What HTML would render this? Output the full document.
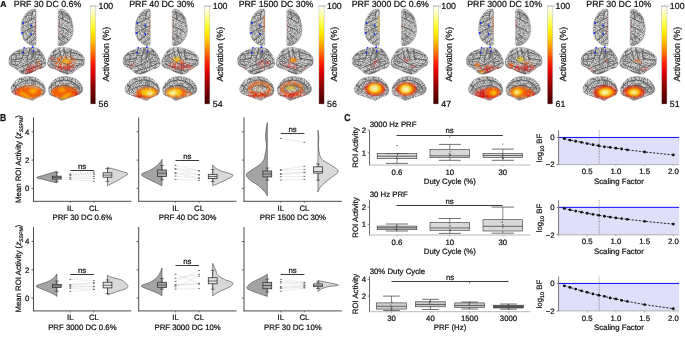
<!DOCTYPE html>
<html><head><meta charset="utf-8"><style>
html,body{margin:0;padding:0;background:#fff;width:685px;height:337px;overflow:hidden}
svg{display:block;will-change:transform}
text{font-family:"Liberation Sans",sans-serif;text-rendering:geometricPrecision;stroke:#111;stroke-width:0.22px}
</style></head><body>
<svg width="685" height="337" viewBox="0 0 685 337" font-family="'Liberation Sans', sans-serif">
<defs>
<linearGradient id="hot" x1="0" y1="1" x2="0" y2="0">
<stop offset="0" stop-color="#440000"/>
<stop offset="0.18" stop-color="#8c0000"/>
<stop offset="0.32" stop-color="#dc0000"/>
<stop offset="0.42" stop-color="#ff2200"/>
<stop offset="0.52" stop-color="#ff6e00"/>
<stop offset="0.62" stop-color="#ffb400"/>
<stop offset="0.72" stop-color="#ffea00"/>
<stop offset="0.82" stop-color="#ffff4a"/>
<stop offset="0.92" stop-color="#ffffb0"/>
<stop offset="1" stop-color="#fffffa"/>
</linearGradient>
<filter id="tex" x="0" y="0" width="100%" height="100%" filterUnits="objectBoundingBox">
<feTurbulence type="turbulence" baseFrequency="0.35 0.45" numOctaves="2" seed="4" result="t"/>
<feColorMatrix in="t" type="matrix" values="0 0 0 0 0  0 0 0 0 0  0 0 0 0 0  -2.2 -0.5 0 0 1.05" result="a"/>
<feFlood flood-color="#5a5a5a" result="f"/>
<feComposite in="f" in2="a" operator="in" result="d"/>
<feComposite in="d" in2="SourceGraphic" operator="in"/>
</filter>
<filter id="blur1"><feGaussianBlur stdDeviation="0.9"/></filter>
<filter id="blur2"><feGaussianBlur stdDeviation="1.6"/></filter>
<g id="sulLL"><path d="M20.70 66.90 L24.50 65.50 L28.30 64.00 L32.00 61.80 L35.90 59.30 L38.00 57.50"/><path d="M21.60 71.60 L27.00 69.80 L33.00 67.80 L38.00 66.00 L42.50 64.00"/><path d="M29.70 48.80 L29.20 51.50 L28.30 54.50 L27.50 57.50 L26.80 60.20"/><path d="M23.50 49.80 L23.30 52.50 L23.00 55.50 L22.40 58.00 L21.60 60.20"/><path d="M34.00 50.70 L33.60 53.00 L33.00 55.50 L32.50 57.50 L32.00 59.30"/><path d="M12.10 55.50 L15.00 54.40 L17.80 53.60 L22.60 52.60"/><path d="M11.20 60.20 L14.00 59.70 L16.90 59.30 L21.60 58.30"/><path d="M34.90 53.60 L37.80 54.40 L40.60 55.50 L42.60 57.30 L44.40 59.30"/><path d="M25.40 73.50 L30.50 72.20 L35.90 70.70 L40.00 69.00 L44.40 66.90"/><path d="M12.10 64.00 L15.00 65.00 L17.80 65.90"/><path d="M38.00 50.50 L40.00 52.00"/><path d="M16.00 50.50 L18.00 51.20"/><path d="M36.00 62.50 L39.00 61.50 L42.00 61.00"/></g>
<g id="sulLR"><path d="M72.90 66.90 L69.10 65.50 L65.30 64.00 L61.60 61.80 L57.70 59.30 L55.60 57.50"/><path d="M72.00 71.60 L66.60 69.80 L60.60 67.80 L55.60 66.00 L51.10 64.00"/><path d="M63.90 48.80 L64.40 51.50 L65.30 54.50 L66.10 57.50 L66.80 60.20"/><path d="M70.10 49.80 L70.30 52.50 L70.60 55.50 L71.20 58.00 L72.00 60.20"/><path d="M59.60 50.70 L60.00 53.00 L60.60 55.50 L61.10 57.50 L61.60 59.30"/><path d="M81.50 55.50 L78.60 54.40 L75.80 53.60 L71.00 52.60"/><path d="M82.40 60.20 L79.60 59.70 L76.70 59.30 L72.00 58.30"/><path d="M58.70 53.60 L55.80 54.40 L53.00 55.50 L51.00 57.30 L49.20 59.30"/><path d="M68.20 73.50 L63.10 72.20 L57.70 70.70 L53.60 69.00 L49.20 66.90"/><path d="M81.50 64.00 L78.60 65.00 L75.80 65.90"/><path d="M55.60 50.50 L53.60 52.00"/><path d="M77.60 50.50 L75.60 51.20"/><path d="M57.60 62.50 L54.60 61.50 L51.60 61.00"/></g>
<g id="sulDL"><path d="M36.00 17.00 L32.00 19.00 L28.00 21.50 L24.00 23.00"/><path d="M35.80 26.00 L31.00 28.00 L27.00 30.00 L23.00 33.00"/><path d="M33.00 11.00 L32.00 15.00 L31.50 19.00"/><path d="M34.00 33.00 L30.00 37.00 L26.00 40.00"/><path d="M29.50 12.50 L27.00 15.50 L24.50 18.00"/><path d="M35.50 38.00 L32.00 41.00 L29.00 43.00"/></g>
<g id="sulDR"><path d="M58.20 17.00 L62.20 19.00 L66.20 21.50 L70.20 23.00"/><path d="M58.40 26.00 L63.20 28.00 L67.20 30.00 L71.20 33.00"/><path d="M61.20 11.00 L62.20 15.00 L62.70 19.00"/><path d="M60.20 33.00 L64.20 37.00 L68.20 40.00"/><path d="M64.70 12.50 L67.20 15.50 L69.70 18.00"/><path d="M58.70 38.00 L62.20 41.00 L65.20 43.00"/></g>
<g id="sulML"><path d="M14.00 90.00 L17.00 85.00 L22.00 81.50 L29.00 80.00 L36.00 81.00 L41.00 84.00 L44.00 88.00"/><path d="M17.00 92.00 L20.00 88.50 L25.00 86.00 L31.00 85.50 L37.00 86.50 L41.50 89.50"/><path d="M16.00 87.00 L13.00 85.00"/><path d="M22.00 79.50 L21.00 78.00"/><path d="M30.00 78.50 L30.00 77.00"/><path d="M38.00 79.50 L39.00 78.00"/></g>
<g id="sulMR"><path d="M79.80 90.00 L76.80 85.00 L71.80 81.50 L64.80 80.00 L57.80 81.00 L52.80 84.00 L49.80 88.00"/><path d="M76.80 92.00 L73.80 88.50 L68.80 86.00 L62.80 85.50 L56.80 86.50 L52.30 89.50"/><path d="M77.80 87.00 L80.80 85.00"/><path d="M71.80 79.50 L72.80 78.00"/><path d="M63.80 78.50 L63.80 77.00"/><path d="M55.80 79.50 L54.80 78.00"/></g>
<path id="sDL" d="M33.70 9.00 C34.63 9.13,35.60 8.67,36.00 10.50 C36.40 12.33,36.08 15.92,36.10 20.00 C36.12 24.08,36.12 30.92,36.10 35.00 C36.08 39.08,36.40 42.72,36.00 44.50 C35.60 46.28,34.63 45.62,33.70 45.70 C32.77 45.78,31.62 45.55,30.40 45.00 C29.18 44.45,27.63 43.50,26.40 42.40 C25.17 41.30,23.90 40.18,23.00 38.40 C22.10 36.62,21.28 33.93,21.00 31.70 C20.72 29.47,20.97 27.23,21.30 25.00 C21.63 22.77,22.15 20.30,23.00 18.30 C23.85 16.30,25.17 14.43,26.40 13.00 C27.63 11.57,29.18 10.37,30.40 9.70 C31.62 9.03,32.77 8.87,33.70 9.00 Z"/>
<clipPath id="cDL"><use href="#sDL"/></clipPath>
<filter id="txDL" x="0" y="0" width="100%" height="100%">
<feTurbulence type="fractalNoise" baseFrequency="0.25" numOctaves="1" seed="3" result="n"/>
<feColorMatrix in="n" type="matrix" values="0 0 0 0 0  0 0 0 0 0  0 0 0 0 0  1 0 0 0 0" result="a"/>
<feComponentTransfer in="a" result="b"><feFuncA type="table" tableValues="0 0 0.9 0.5 0 0.9 0 0.5 0.9 0 0"/></feComponentTransfer>
<feFlood flood-color="#505050"/>
<feComposite in2="b" operator="in" result="d"/>
<feComposite in="d" in2="SourceGraphic" operator="in"/>
</filter>
<path id="sDR" d="M63.80 9.70 C65.02 10.37,66.57 11.57,67.80 13.00 C69.03 14.43,70.35 16.30,71.20 18.30 C72.05 20.30,72.57 22.77,72.90 25.00 C73.23 27.23,73.48 29.47,73.20 31.70 C72.92 33.93,72.10 36.62,71.20 38.40 C70.30 40.18,69.03 41.30,67.80 42.40 C66.57 43.50,65.02 44.45,63.80 45.00 C62.58 45.55,61.43 45.78,60.50 45.70 C59.57 45.62,58.60 46.28,58.20 44.50 C57.80 42.72,58.12 39.08,58.10 35.00 C58.08 30.92,58.08 24.08,58.10 20.00 C58.12 15.92,57.80 12.33,58.20 10.50 C58.60 8.67,59.57 9.13,60.50 9.00 C61.43 8.87,62.58 9.03,63.80 9.70 Z"/>
<clipPath id="cDR"><use href="#sDR"/></clipPath>
<filter id="txDR" x="0" y="0" width="100%" height="100%">
<feTurbulence type="fractalNoise" baseFrequency="0.25" numOctaves="1" seed="5" result="n"/>
<feColorMatrix in="n" type="matrix" values="0 0 0 0 0  0 0 0 0 0  0 0 0 0 0  1 0 0 0 0" result="a"/>
<feComponentTransfer in="a" result="b"><feFuncA type="table" tableValues="0 0 0.9 0.5 0 0.9 0 0.5 0.9 0 0"/></feComponentTransfer>
<feFlood flood-color="#505050"/>
<feComposite in2="b" operator="in" result="d"/>
<feComposite in="d" in2="SourceGraphic" operator="in"/>
</filter>
<path id="sLL" d="M8.80 61.10 C8.80 59.68,9.07 57.93,9.90 56.50 C10.73 55.07,12.27 53.60,13.80 52.50 C15.33 51.40,17.12 50.67,19.10 49.90 C21.08 49.13,23.30 48.30,25.70 47.90 C28.10 47.50,31.32 47.28,33.50 47.50 C35.68 47.72,37.27 48.15,38.80 49.20 C40.33 50.25,41.60 52.15,42.70 53.80 C43.80 55.45,44.85 57.35,45.40 59.10 C45.95 60.85,46.33 62.88,46.00 64.30 C45.67 65.72,44.82 66.72,43.40 67.60 C41.98 68.48,39.37 68.78,37.50 69.60 C35.63 70.42,33.95 71.73,32.20 72.50 C30.45 73.27,28.75 74.03,27.00 74.20 C25.25 74.37,23.23 74.15,21.70 73.50 C20.17 72.85,19.12 71.28,17.80 70.30 C16.48 69.32,15.12 68.48,13.80 67.60 C12.48 66.72,10.73 66.08,9.90 65.00 C9.07 63.92,8.80 62.52,8.80 61.10 Z"/>
<clipPath id="cLL"><use href="#sLL"/></clipPath>
<filter id="txLL" x="0" y="0" width="100%" height="100%">
<feTurbulence type="fractalNoise" baseFrequency="0.25" numOctaves="1" seed="7" result="n"/>
<feColorMatrix in="n" type="matrix" values="0 0 0 0 0  0 0 0 0 0  0 0 0 0 0  1 0 0 0 0" result="a"/>
<feComponentTransfer in="a" result="b"><feFuncA type="table" tableValues="0 0 0.9 0.5 0 0.9 0 0.5 0.9 0 0"/></feComponentTransfer>
<feFlood flood-color="#505050"/>
<feComposite in2="b" operator="in" result="d"/>
<feComposite in="d" in2="SourceGraphic" operator="in"/>
</filter>
<path id="sLR" d="M83.70 65.00 C82.87 66.08,81.12 66.72,79.80 67.60 C78.48 68.48,77.12 69.32,75.80 70.30 C74.48 71.28,73.43 72.85,71.90 73.50 C70.37 74.15,68.35 74.37,66.60 74.20 C64.85 74.03,63.15 73.27,61.40 72.50 C59.65 71.73,57.97 70.42,56.10 69.60 C54.23 68.78,51.62 68.48,50.20 67.60 C48.78 66.72,47.93 65.72,47.60 64.30 C47.27 62.88,47.65 60.85,48.20 59.10 C48.75 57.35,49.80 55.45,50.90 53.80 C52.00 52.15,53.27 50.25,54.80 49.20 C56.33 48.15,57.92 47.72,60.10 47.50 C62.28 47.28,65.50 47.50,67.90 47.90 C70.30 48.30,72.52 49.13,74.50 49.90 C76.48 50.67,78.27 51.40,79.80 52.50 C81.33 53.60,82.87 55.07,83.70 56.50 C84.53 57.93,84.80 59.68,84.80 61.10 C84.80 62.52,84.53 63.92,83.70 65.00 Z"/>
<clipPath id="cLR"><use href="#sLR"/></clipPath>
<filter id="txLR" x="0" y="0" width="100%" height="100%">
<feTurbulence type="fractalNoise" baseFrequency="0.25" numOctaves="1" seed="11" result="n"/>
<feColorMatrix in="n" type="matrix" values="0 0 0 0 0  0 0 0 0 0  0 0 0 0 0  1 0 0 0 0" result="a"/>
<feComponentTransfer in="a" result="b"><feFuncA type="table" tableValues="0 0 0.9 0.5 0 0.9 0 0.5 0.9 0 0"/></feComponentTransfer>
<feFlood flood-color="#505050"/>
<feComposite in2="b" operator="in" result="d"/>
<feComposite in="d" in2="SourceGraphic" operator="in"/>
</filter>
<path id="sML" d="M10.90 89.10 C10.90 87.68,11.57 86.03,12.50 84.50 C13.43 82.97,14.97 81.07,16.50 79.90 C18.03 78.73,19.73 78.05,21.70 77.50 C23.67 76.95,26.10 76.63,28.30 76.60 C30.50 76.57,32.93 76.65,34.90 77.30 C36.87 77.95,38.58 79.20,40.10 80.50 C41.62 81.80,43.12 83.45,44.00 85.10 C44.88 86.75,45.50 88.75,45.40 90.40 C45.30 92.05,44.50 93.90,43.40 95.00 C42.30 96.10,40.22 96.35,38.80 97.00 C37.38 97.65,36.00 98.32,34.90 98.90 C33.80 99.48,33.30 100.43,32.20 100.50 C31.10 100.57,29.83 99.83,28.30 99.30 C26.77 98.77,24.75 97.93,23.00 97.30 C21.25 96.67,19.55 96.22,17.80 95.50 C16.05 94.78,13.65 94.07,12.50 93.00 C11.35 91.93,10.90 90.52,10.90 89.10 Z"/>
<clipPath id="cML"><use href="#sML"/></clipPath>
<filter id="txML" x="0" y="0" width="100%" height="100%">
<feTurbulence type="fractalNoise" baseFrequency="0.25" numOctaves="1" seed="13" result="n"/>
<feColorMatrix in="n" type="matrix" values="0 0 0 0 0  0 0 0 0 0  0 0 0 0 0  1 0 0 0 0" result="a"/>
<feComponentTransfer in="a" result="b"><feFuncA type="table" tableValues="0 0 0.9 0.5 0 0.9 0 0.5 0.9 0 0"/></feComponentTransfer>
<feFlood flood-color="#505050"/>
<feComposite in2="b" operator="in" result="d"/>
<feComposite in="d" in2="SourceGraphic" operator="in"/>
</filter>
<path id="sMR" d="M81.30 93.00 C80.15 94.07,77.75 94.78,76.00 95.50 C74.25 96.22,72.55 96.67,70.80 97.30 C69.05 97.93,67.03 98.77,65.50 99.30 C63.97 99.83,62.70 100.57,61.60 100.50 C60.50 100.43,60.00 99.48,58.90 98.90 C57.80 98.32,56.42 97.65,55.00 97.00 C53.58 96.35,51.50 96.10,50.40 95.00 C49.30 93.90,48.50 92.05,48.40 90.40 C48.30 88.75,48.92 86.75,49.80 85.10 C50.68 83.45,52.18 81.80,53.70 80.50 C55.22 79.20,56.93 77.95,58.90 77.30 C60.87 76.65,63.30 76.57,65.50 76.60 C67.70 76.63,70.13 76.95,72.10 77.50 C74.07 78.05,75.77 78.73,77.30 79.90 C78.83 81.07,80.37 82.97,81.30 84.50 C82.23 86.03,82.90 87.68,82.90 89.10 C82.90 90.52,82.45 91.93,81.30 93.00 Z"/>
<clipPath id="cMR"><use href="#sMR"/></clipPath>
<filter id="txMR" x="0" y="0" width="100%" height="100%">
<feTurbulence type="fractalNoise" baseFrequency="0.25" numOctaves="1" seed="17" result="n"/>
<feColorMatrix in="n" type="matrix" values="0 0 0 0 0  0 0 0 0 0  0 0 0 0 0  1 0 0 0 0" result="a"/>
<feComponentTransfer in="a" result="b"><feFuncA type="table" tableValues="0 0 0.9 0.5 0 0.9 0 0.5 0.9 0 0"/></feComponentTransfer>
<feFlood flood-color="#505050"/>
<feComposite in2="b" operator="in" result="d"/>
<feComposite in="d" in2="SourceGraphic" operator="in"/>
</filter>
<filter id="patch" x="-20%" y="-20%" width="140%" height="140%">
<feGaussianBlur in="SourceGraphic" stdDeviation="0.8" result="bl"/>
<feTurbulence type="fractalNoise" baseFrequency="0.45" numOctaves="1" seed="9" result="n"/>
<feColorMatrix in="n" type="matrix" values="0 0 0 0 0  0 0 0 0 0  0 0 0 0 0  3.2 0 0 0 -1.1" result="m"/>
<feComposite in="bl" in2="m" operator="in"/>
</filter>
<filter id="patch2" x="-20%" y="-20%" width="140%" height="140%">
<feGaussianBlur in="SourceGraphic" stdDeviation="0.9" result="bl"/>
<feTurbulence type="fractalNoise" baseFrequency="0.4" numOctaves="1" seed="4" result="n"/>
<feColorMatrix in="n" type="matrix" values="0 0 0 0 0  0 0 0 0 0  0 0 0 0 0  2.5 0 0 0 -0.4" result="m"/>
<feComposite in="bl" in2="m" operator="in"/>
</filter>
<filter id="soft" x="-30%" y="-30%" width="160%" height="160%"><feGaussianBlur stdDeviation="1.0"/></filter>
</defs>
<rect width="685" height="337" fill="#fff"/>
<g transform="translate(0.00,0)">
<text x="47.50" y="6.80" font-size="8.8" text-anchor="middle" fill="#111" font-weight="normal" >PRF 30 DC 0.6%</text>
<rect x="90.4" y="6" width="5.2" height="98" fill="url(#hot)" stroke="#aaa" stroke-width="0.4"/>
<line x1="90.20" y1="6.00" x2="98.00" y2="6.00" stroke="#888" stroke-width="0.5" />
<text x="98.50" y="9.20" font-size="8.8" text-anchor="start" fill="#111" font-weight="normal" >100</text>
<text x="98.50" y="107.20" font-size="8.8" text-anchor="start" fill="#111" font-weight="normal" >56</text>
<text x="108.90" y="54.20" font-size="8.9" text-anchor="middle" fill="#111" font-weight="normal" transform="rotate(-90 108.9 54.2)" >Activation (%)</text>
<g transform="translate(0.00,0)">
<use href="#sDL" fill="#d6d6d6" stroke="#a0a0a0" stroke-width="0.4"/>
<use href="#sDR" fill="#d6d6d6" stroke="#a0a0a0" stroke-width="0.4"/>
<use href="#sLL" fill="#d6d6d6" stroke="#a0a0a0" stroke-width="0.4"/>
<use href="#sLR" fill="#d6d6d6" stroke="#a0a0a0" stroke-width="0.4"/>
<use href="#sML" fill="#d6d6d6" stroke="#a0a0a0" stroke-width="0.4"/>
<use href="#sMR" fill="#d6d6d6" stroke="#a0a0a0" stroke-width="0.4"/>
<use href="#sDL" fill="#000" filter="url(#txDL)" opacity="0.72"/>
<g clip-path="url(#cDL)"><use href="#sulDL" fill="none" stroke="#4a4a4a" stroke-width="0.9" stroke-linecap="round" stroke-linejoin="round" opacity="0.85"/></g>
<use href="#sDR" fill="#000" filter="url(#txDR)" opacity="0.72"/>
<g clip-path="url(#cDR)"><use href="#sulDR" fill="none" stroke="#4a4a4a" stroke-width="0.9" stroke-linecap="round" stroke-linejoin="round" opacity="0.85"/></g>
<use href="#sLL" fill="#000" filter="url(#txLL)" opacity="0.72"/>
<g clip-path="url(#cLL)"><use href="#sulLL" fill="none" stroke="#4a4a4a" stroke-width="0.9" stroke-linecap="round" stroke-linejoin="round" opacity="0.85"/></g>
<use href="#sLR" fill="#000" filter="url(#txLR)" opacity="0.72"/>
<g clip-path="url(#cLR)"><use href="#sulLR" fill="none" stroke="#4a4a4a" stroke-width="0.9" stroke-linecap="round" stroke-linejoin="round" opacity="0.85"/></g>
<use href="#sML" fill="#000" filter="url(#txML)" opacity="0.72"/>
<g clip-path="url(#cML)"><use href="#sulML" fill="none" stroke="#4a4a4a" stroke-width="0.9" stroke-linecap="round" stroke-linejoin="round" opacity="0.85"/></g>
<use href="#sMR" fill="#000" filter="url(#txMR)" opacity="0.72"/>
<g clip-path="url(#cMR)"><use href="#sulMR" fill="none" stroke="#4a4a4a" stroke-width="0.9" stroke-linecap="round" stroke-linejoin="round" opacity="0.85"/></g>
<g clip-path="url(#cDL)"><ellipse cx="36.0" cy="28" rx="0.9" ry="9" fill="#e81000" opacity="0.7" filter="url(#patch)"/></g>
<g clip-path="url(#cDR)"><ellipse cx="58.3" cy="28" rx="0.9" ry="8" fill="#e81000" opacity="0.5" filter="url(#patch)"/></g>
<g clip-path="url(#cLL)"><ellipse cx="33" cy="68" rx="9" ry="4" fill="#e81000" opacity="0.6" transform="rotate(-10 33 68)" filter="url(#patch)"/></g>
<g clip-path="url(#cLL)"><ellipse cx="30" cy="71.5" rx="7" ry="1.8" fill="#e81000" opacity="0.7" transform="rotate(-10 30 71.5)" filter="url(#patch)"/></g>
<g clip-path="url(#cLL)"><ellipse cx="38" cy="62" rx="3" ry="2" fill="#ff6000" opacity="0.5" transform="rotate(20 38 62)" filter="url(#patch)"/></g>
<g clip-path="url(#cLR)"><ellipse cx="65" cy="62" rx="11" ry="6" fill="#ff6000" opacity="0.85" filter="url(#patch)"/></g>
<g clip-path="url(#cLR)"><ellipse cx="64" cy="68" rx="11" ry="2.5" fill="#e81000" opacity="0.75" filter="url(#patch)"/></g>
<g clip-path="url(#cLR)"><ellipse cx="66" cy="61" rx="4" ry="1.8" fill="#ffd200" opacity="0.85" transform="rotate(-10 66 61)" filter="url(#soft)"/></g>
<g clip-path="url(#cLR)"><ellipse cx="52" cy="59" rx="2" ry="2" fill="#e81000" opacity="0.7" filter="url(#patch)"/></g>
<g clip-path="url(#cML)"><ellipse cx="29.5" cy="92.5" rx="12.5" ry="5.5" fill="#ff6000" opacity="0.95" filter="url(#soft)"/></g>
<g clip-path="url(#cML)"><ellipse cx="29" cy="92" rx="13.5" ry="6.5" fill="#ff6000" opacity="0.6" filter="url(#patch2)"/></g>
<g clip-path="url(#cML)"><ellipse cx="17" cy="92" rx="4" ry="3" fill="#e81000" opacity="0.8" filter="url(#patch)"/></g>
<g clip-path="url(#cML)"><ellipse cx="33" cy="91" rx="4" ry="2.5" fill="#ffd200" opacity="0.7" filter="url(#soft)"/></g>
<g clip-path="url(#cML)"><ellipse cx="24.5" cy="94.8" rx="7" ry="1.2" fill="#ffd200" opacity="0.95" transform="rotate(32 24.5 94.8)" filter="url(#soft)"/></g>
<g clip-path="url(#cML)"><ellipse cx="35" cy="86.5" rx="8" ry="1.2" fill="#ffd8b0" opacity="0.6" transform="rotate(5 35 86.5)" filter="url(#soft)"/></g>
<g clip-path="url(#cMR)"><ellipse cx="64" cy="92.5" rx="12.5" ry="5.5" fill="#ff6000" opacity="0.95" filter="url(#soft)"/></g>
<g clip-path="url(#cMR)"><ellipse cx="65" cy="92" rx="13" ry="6.5" fill="#ff6000" opacity="0.6" filter="url(#patch2)"/></g>
<g clip-path="url(#cMR)"><ellipse cx="76" cy="94" rx="4" ry="3" fill="#e81000" opacity="0.8" filter="url(#patch)"/></g>
<g clip-path="url(#cMR)"><ellipse cx="66" cy="96" rx="6" ry="1.3" fill="#ffd200" opacity="0.95" transform="rotate(-30 66 96)" filter="url(#soft)"/></g>
<g clip-path="url(#cMR)"><ellipse cx="62" cy="90" rx="3.5" ry="2" fill="#ffd200" opacity="0.6" filter="url(#soft)"/></g>
<use href="#sLL" fill="#000" filter="url(#txLL)" opacity="0.12"/>
<use href="#sLR" fill="#000" filter="url(#txLR)" opacity="0.12"/>
<use href="#sML" fill="#000" filter="url(#txML)" opacity="0.12"/>
<use href="#sMR" fill="#000" filter="url(#txMR)" opacity="0.12"/>
<circle cx="23.2" cy="23" r="0.9" fill="#1020ff"/>
<circle cx="31.2" cy="25.5" r="0.9" fill="#1020ff"/>
<circle cx="22.2" cy="33" r="0.9" fill="#1020ff"/>
<circle cx="31" cy="34" r="0.9" fill="#1020ff"/>
<circle cx="24.2" cy="47.8" r="0.9" fill="#1020ff"/>
<circle cx="23" cy="52.6" r="0.9" fill="#1020ff"/>
<circle cx="32.7" cy="47.2" r="0.9" fill="#1020ff"/>
<circle cx="33.3" cy="51.3" r="0.9" fill="#1020ff"/>
</g>
</g>
<g transform="translate(114.27,0)">
<text x="47.50" y="6.80" font-size="8.8" text-anchor="middle" fill="#111" font-weight="normal" >PRF 40 DC 30%</text>
<rect x="90.4" y="6" width="5.2" height="98" fill="url(#hot)" stroke="#aaa" stroke-width="0.4"/>
<line x1="90.20" y1="6.00" x2="98.00" y2="6.00" stroke="#888" stroke-width="0.5" />
<text x="98.50" y="9.20" font-size="8.8" text-anchor="start" fill="#111" font-weight="normal" >100</text>
<text x="98.50" y="107.20" font-size="8.8" text-anchor="start" fill="#111" font-weight="normal" >54</text>
<text x="108.90" y="54.20" font-size="8.9" text-anchor="middle" fill="#111" font-weight="normal" transform="rotate(-90 108.9 54.2)" >Activation (%)</text>
<g transform="translate(-0.10,0)">
<use href="#sDL" fill="#d6d6d6" stroke="#a0a0a0" stroke-width="0.4"/>
<use href="#sDR" fill="#d6d6d6" stroke="#a0a0a0" stroke-width="0.4"/>
<use href="#sLL" fill="#d6d6d6" stroke="#a0a0a0" stroke-width="0.4"/>
<use href="#sLR" fill="#d6d6d6" stroke="#a0a0a0" stroke-width="0.4"/>
<use href="#sML" fill="#d6d6d6" stroke="#a0a0a0" stroke-width="0.4"/>
<use href="#sMR" fill="#d6d6d6" stroke="#a0a0a0" stroke-width="0.4"/>
<use href="#sDL" fill="#000" filter="url(#txDL)" opacity="0.72"/>
<g clip-path="url(#cDL)"><use href="#sulDL" fill="none" stroke="#4a4a4a" stroke-width="0.9" stroke-linecap="round" stroke-linejoin="round" opacity="0.85"/></g>
<use href="#sDR" fill="#000" filter="url(#txDR)" opacity="0.72"/>
<g clip-path="url(#cDR)"><use href="#sulDR" fill="none" stroke="#4a4a4a" stroke-width="0.9" stroke-linecap="round" stroke-linejoin="round" opacity="0.85"/></g>
<use href="#sLL" fill="#000" filter="url(#txLL)" opacity="0.72"/>
<g clip-path="url(#cLL)"><use href="#sulLL" fill="none" stroke="#4a4a4a" stroke-width="0.9" stroke-linecap="round" stroke-linejoin="round" opacity="0.85"/></g>
<use href="#sLR" fill="#000" filter="url(#txLR)" opacity="0.72"/>
<g clip-path="url(#cLR)"><use href="#sulLR" fill="none" stroke="#4a4a4a" stroke-width="0.9" stroke-linecap="round" stroke-linejoin="round" opacity="0.85"/></g>
<use href="#sML" fill="#000" filter="url(#txML)" opacity="0.72"/>
<g clip-path="url(#cML)"><use href="#sulML" fill="none" stroke="#4a4a4a" stroke-width="0.9" stroke-linecap="round" stroke-linejoin="round" opacity="0.85"/></g>
<use href="#sMR" fill="#000" filter="url(#txMR)" opacity="0.72"/>
<g clip-path="url(#cMR)"><use href="#sulMR" fill="none" stroke="#4a4a4a" stroke-width="0.9" stroke-linecap="round" stroke-linejoin="round" opacity="0.85"/></g>
<g clip-path="url(#cDL)"><ellipse cx="36.0" cy="27" rx="0.9" ry="12" fill="#ff6000" opacity="0.5" filter="url(#patch)"/></g>
<g clip-path="url(#cDR)"><ellipse cx="58.3" cy="27" rx="0.9" ry="10" fill="#ff6000" opacity="0.5" filter="url(#patch)"/></g>
<g clip-path="url(#cLL)"><ellipse cx="18" cy="65" rx="3" ry="2" fill="#e81000" opacity="0.6" filter="url(#patch)"/></g>
<g clip-path="url(#cLL)"><ellipse cx="14" cy="69" rx="3" ry="1.5" fill="#e81000" opacity="0.6" filter="url(#patch)"/></g>
<g clip-path="url(#cLR)"><ellipse cx="66" cy="66" rx="12" ry="3.5" fill="#e81000" opacity="0.75" filter="url(#patch)"/></g>
<g clip-path="url(#cLR)"><ellipse cx="64" cy="61" rx="6" ry="3" fill="#ff6000" opacity="0.7" filter="url(#patch)"/></g>
<g clip-path="url(#cLR)"><ellipse cx="62.6" cy="59.3" rx="3" ry="2" fill="#ffd200" opacity="0.9" filter="url(#soft)"/></g>
<g clip-path="url(#cLR)"><ellipse cx="78" cy="69" rx="2.5" ry="2" fill="#ff6000" opacity="0.8" filter="url(#patch)"/></g>
<g clip-path="url(#cML)"><ellipse cx="33" cy="92.5" rx="11.5" ry="5.5" fill="#ff6000" opacity="0.95" filter="url(#patch2)"/></g>
<g clip-path="url(#cML)"><ellipse cx="28" cy="96.5" rx="11" ry="2.5" fill="#e81000" opacity="0.8" filter="url(#patch)"/></g>
<g clip-path="url(#cML)"><ellipse cx="34" cy="92.5" rx="7.5" ry="3.8" fill="#ffd200" opacity="0.95" filter="url(#soft)"/></g>
<g clip-path="url(#cML)"><ellipse cx="35.7" cy="93.5" rx="3" ry="2" fill="#fff8b8" opacity="1" filter="url(#soft)"/></g>
<g clip-path="url(#cMR)"><ellipse cx="62" cy="92.5" rx="10.5" ry="5.5" fill="#ff6000" opacity="0.95" filter="url(#patch2)"/></g>
<g clip-path="url(#cMR)"><ellipse cx="73" cy="94" rx="5" ry="3.5" fill="#ff6000" opacity="0.8" filter="url(#patch)"/></g>
<g clip-path="url(#cMR)"><ellipse cx="60.5" cy="92.5" rx="7.5" ry="3.8" fill="#ffd200" opacity="0.95" filter="url(#soft)"/></g>
<g clip-path="url(#cMR)"><ellipse cx="58.8" cy="93" rx="3.5" ry="2.2" fill="#fff8b8" opacity="1" filter="url(#soft)"/></g>
<use href="#sLL" fill="#000" filter="url(#txLL)" opacity="0.12"/>
<use href="#sLR" fill="#000" filter="url(#txLR)" opacity="0.12"/>
<use href="#sML" fill="#000" filter="url(#txML)" opacity="0.12"/>
<use href="#sMR" fill="#000" filter="url(#txMR)" opacity="0.12"/>
<circle cx="23.2" cy="23" r="0.9" fill="#1020ff"/>
<circle cx="31.2" cy="25.5" r="0.9" fill="#1020ff"/>
<circle cx="22.2" cy="33" r="0.9" fill="#1020ff"/>
<circle cx="31" cy="34" r="0.9" fill="#1020ff"/>
<circle cx="24.2" cy="47.8" r="0.9" fill="#1020ff"/>
<circle cx="23" cy="52.6" r="0.9" fill="#1020ff"/>
<circle cx="32.7" cy="47.2" r="0.9" fill="#1020ff"/>
<circle cx="33.3" cy="51.3" r="0.9" fill="#1020ff"/>
</g>
</g>
<g transform="translate(228.54,0)">
<text x="47.50" y="6.80" font-size="8.8" text-anchor="middle" fill="#111" font-weight="normal" >PRF 1500 DC 30%</text>
<rect x="90.4" y="6" width="5.2" height="98" fill="url(#hot)" stroke="#aaa" stroke-width="0.4"/>
<line x1="90.20" y1="6.00" x2="98.00" y2="6.00" stroke="#888" stroke-width="0.5" />
<text x="98.50" y="9.20" font-size="8.8" text-anchor="start" fill="#111" font-weight="normal" >100</text>
<text x="98.50" y="107.20" font-size="8.8" text-anchor="start" fill="#111" font-weight="normal" >56</text>
<text x="108.90" y="54.20" font-size="8.9" text-anchor="middle" fill="#111" font-weight="normal" transform="rotate(-90 108.9 54.2)" >Activation (%)</text>
<g transform="translate(0.20,0)">
<use href="#sDL" fill="#d6d6d6" stroke="#a0a0a0" stroke-width="0.4"/>
<use href="#sDR" fill="#d6d6d6" stroke="#a0a0a0" stroke-width="0.4"/>
<use href="#sLL" fill="#d6d6d6" stroke="#a0a0a0" stroke-width="0.4"/>
<use href="#sLR" fill="#d6d6d6" stroke="#a0a0a0" stroke-width="0.4"/>
<use href="#sML" fill="#d6d6d6" stroke="#a0a0a0" stroke-width="0.4"/>
<use href="#sMR" fill="#d6d6d6" stroke="#a0a0a0" stroke-width="0.4"/>
<use href="#sDL" fill="#000" filter="url(#txDL)" opacity="0.72"/>
<g clip-path="url(#cDL)"><use href="#sulDL" fill="none" stroke="#4a4a4a" stroke-width="0.9" stroke-linecap="round" stroke-linejoin="round" opacity="0.85"/></g>
<use href="#sDR" fill="#000" filter="url(#txDR)" opacity="0.72"/>
<g clip-path="url(#cDR)"><use href="#sulDR" fill="none" stroke="#4a4a4a" stroke-width="0.9" stroke-linecap="round" stroke-linejoin="round" opacity="0.85"/></g>
<use href="#sLL" fill="#000" filter="url(#txLL)" opacity="0.72"/>
<g clip-path="url(#cLL)"><use href="#sulLL" fill="none" stroke="#4a4a4a" stroke-width="0.9" stroke-linecap="round" stroke-linejoin="round" opacity="0.85"/></g>
<use href="#sLR" fill="#000" filter="url(#txLR)" opacity="0.72"/>
<g clip-path="url(#cLR)"><use href="#sulLR" fill="none" stroke="#4a4a4a" stroke-width="0.9" stroke-linecap="round" stroke-linejoin="round" opacity="0.85"/></g>
<use href="#sML" fill="#000" filter="url(#txML)" opacity="0.72"/>
<g clip-path="url(#cML)"><use href="#sulML" fill="none" stroke="#4a4a4a" stroke-width="0.9" stroke-linecap="round" stroke-linejoin="round" opacity="0.85"/></g>
<use href="#sMR" fill="#000" filter="url(#txMR)" opacity="0.72"/>
<g clip-path="url(#cMR)"><use href="#sulMR" fill="none" stroke="#4a4a4a" stroke-width="0.9" stroke-linecap="round" stroke-linejoin="round" opacity="0.85"/></g>
<g clip-path="url(#cDL)"><ellipse cx="36.0" cy="23" rx="0.9" ry="9" fill="#ff6000" opacity="0.9" filter="url(#soft)"/></g>
<g clip-path="url(#cDR)"><ellipse cx="58.3" cy="26" rx="0.9" ry="6" fill="#e81000" opacity="0.5" filter="url(#patch)"/></g>
<g clip-path="url(#cLL)"><ellipse cx="35" cy="64" rx="6" ry="4" fill="#e81000" opacity="0.5" filter="url(#patch)"/></g>
<g clip-path="url(#cLL)"><ellipse cx="14.4" cy="69" rx="1.5" ry="1.5" fill="#e81000" opacity="0.7" filter="url(#soft)"/></g>
<g clip-path="url(#cLR)"><ellipse cx="62" cy="66" rx="8" ry="2" fill="#e81000" opacity="0.7" transform="rotate(10 62 66)" filter="url(#patch)"/></g>
<g clip-path="url(#cLR)"><ellipse cx="64.5" cy="60.2" rx="4" ry="2" fill="#ff6000" opacity="0.9" filter="url(#soft)"/></g>
<g clip-path="url(#cLR)"><ellipse cx="64.5" cy="60" rx="2" ry="1.2" fill="#ffd200" opacity="0.9" filter="url(#soft)"/></g>
<g clip-path="url(#cLR)"><ellipse cx="76" cy="69" rx="2" ry="1.5" fill="#e81000" opacity="0.6" filter="url(#patch)"/></g>
<g clip-path="url(#cML)"><ellipse cx="31" cy="89" rx="10" ry="6" fill="none" stroke="#ff6000" stroke-width="3" opacity="0.9" filter="url(#patch2)"/></g>
<g clip-path="url(#cML)"><ellipse cx="30" cy="95" rx="13" ry="3" fill="#e81000" opacity="0.8" filter="url(#patch)"/></g>
<g clip-path="url(#cML)"><ellipse cx="30" cy="89" rx="4" ry="2.5" fill="#ffd0a0" opacity="0.5" filter="url(#soft)"/></g>
<g clip-path="url(#cMR)"><ellipse cx="63" cy="89" rx="10" ry="6" fill="none" stroke="#ff6000" stroke-width="3" opacity="0.9" filter="url(#patch2)"/></g>
<g clip-path="url(#cMR)"><ellipse cx="64" cy="95" rx="13" ry="3" fill="#e81000" opacity="0.8" filter="url(#patch)"/></g>
<g clip-path="url(#cMR)"><ellipse cx="62" cy="88" rx="5" ry="2" fill="#ffd200" opacity="0.6" filter="url(#soft)"/></g>
<use href="#sLL" fill="#000" filter="url(#txLL)" opacity="0.12"/>
<use href="#sLR" fill="#000" filter="url(#txLR)" opacity="0.12"/>
<use href="#sML" fill="#000" filter="url(#txML)" opacity="0.12"/>
<use href="#sMR" fill="#000" filter="url(#txMR)" opacity="0.12"/>
<circle cx="23.2" cy="23" r="0.9" fill="#1020ff"/>
<circle cx="31.2" cy="25.5" r="0.9" fill="#1020ff"/>
<circle cx="22.2" cy="33" r="0.9" fill="#1020ff"/>
<circle cx="31" cy="34" r="0.9" fill="#1020ff"/>
<circle cx="24.2" cy="47.8" r="0.9" fill="#1020ff"/>
<circle cx="23" cy="52.6" r="0.9" fill="#1020ff"/>
<circle cx="32.7" cy="47.2" r="0.9" fill="#1020ff"/>
<circle cx="33.3" cy="51.3" r="0.9" fill="#1020ff"/>
</g>
</g>
<g transform="translate(342.81,0)">
<text x="47.50" y="6.80" font-size="8.8" text-anchor="middle" fill="#111" font-weight="normal" >PRF 3000 DC 0.6%</text>
<rect x="90.4" y="6" width="5.2" height="98" fill="url(#hot)" stroke="#aaa" stroke-width="0.4"/>
<line x1="90.20" y1="6.00" x2="98.00" y2="6.00" stroke="#888" stroke-width="0.5" />
<text x="98.50" y="9.20" font-size="8.8" text-anchor="start" fill="#111" font-weight="normal" >100</text>
<text x="98.50" y="107.20" font-size="8.8" text-anchor="start" fill="#111" font-weight="normal" >47</text>
<text x="108.90" y="54.20" font-size="8.9" text-anchor="middle" fill="#111" font-weight="normal" transform="rotate(-90 108.9 54.2)" >Activation (%)</text>
<g transform="translate(0.60,0)">
<use href="#sDL" fill="#d6d6d6" stroke="#a0a0a0" stroke-width="0.4"/>
<use href="#sDR" fill="#d6d6d6" stroke="#a0a0a0" stroke-width="0.4"/>
<use href="#sLL" fill="#d6d6d6" stroke="#a0a0a0" stroke-width="0.4"/>
<use href="#sLR" fill="#d6d6d6" stroke="#a0a0a0" stroke-width="0.4"/>
<use href="#sML" fill="#d6d6d6" stroke="#a0a0a0" stroke-width="0.4"/>
<use href="#sMR" fill="#d6d6d6" stroke="#a0a0a0" stroke-width="0.4"/>
<use href="#sDL" fill="#000" filter="url(#txDL)" opacity="0.72"/>
<g clip-path="url(#cDL)"><use href="#sulDL" fill="none" stroke="#4a4a4a" stroke-width="0.9" stroke-linecap="round" stroke-linejoin="round" opacity="0.85"/></g>
<use href="#sDR" fill="#000" filter="url(#txDR)" opacity="0.72"/>
<g clip-path="url(#cDR)"><use href="#sulDR" fill="none" stroke="#4a4a4a" stroke-width="0.9" stroke-linecap="round" stroke-linejoin="round" opacity="0.85"/></g>
<use href="#sLL" fill="#000" filter="url(#txLL)" opacity="0.72"/>
<g clip-path="url(#cLL)"><use href="#sulLL" fill="none" stroke="#4a4a4a" stroke-width="0.9" stroke-linecap="round" stroke-linejoin="round" opacity="0.85"/></g>
<use href="#sLR" fill="#000" filter="url(#txLR)" opacity="0.72"/>
<g clip-path="url(#cLR)"><use href="#sulLR" fill="none" stroke="#4a4a4a" stroke-width="0.9" stroke-linecap="round" stroke-linejoin="round" opacity="0.85"/></g>
<use href="#sML" fill="#000" filter="url(#txML)" opacity="0.72"/>
<g clip-path="url(#cML)"><use href="#sulML" fill="none" stroke="#4a4a4a" stroke-width="0.9" stroke-linecap="round" stroke-linejoin="round" opacity="0.85"/></g>
<use href="#sMR" fill="#000" filter="url(#txMR)" opacity="0.72"/>
<g clip-path="url(#cMR)"><use href="#sulMR" fill="none" stroke="#4a4a4a" stroke-width="0.9" stroke-linecap="round" stroke-linejoin="round" opacity="0.85"/></g>
<g clip-path="url(#cDL)"><ellipse cx="36.0" cy="24" rx="0.9" ry="9" fill="#ffd200" opacity="0.95" filter="url(#soft)"/></g>
<g clip-path="url(#cDR)"><ellipse cx="58.3" cy="25" rx="0.9" ry="6" fill="#ff6000" opacity="0.5" filter="url(#patch)"/></g>
<g clip-path="url(#cLL)"><ellipse cx="32" cy="62" rx="3" ry="2" fill="#e81000" opacity="0.6" filter="url(#patch)"/></g>
<g clip-path="url(#cLL)"><ellipse cx="30" cy="66" rx="4" ry="1.5" fill="#e81000" opacity="0.4" filter="url(#patch)"/></g>
<g clip-path="url(#cLR)"><ellipse cx="63" cy="60" rx="3" ry="1.5" fill="#e81000" opacity="0.8" filter="url(#patch)"/></g>
<g clip-path="url(#cLR)"><ellipse cx="70" cy="66" rx="3" ry="1.5" fill="#e81000" opacity="0.5" filter="url(#patch)"/></g>
<g clip-path="url(#cML)"><ellipse cx="31.5" cy="89" rx="10.5" ry="6.5" fill="#e81000" opacity="0.9" filter="url(#patch2)"/></g>
<g clip-path="url(#cML)"><ellipse cx="31.5" cy="89" rx="8.5" ry="5.5" fill="#ff6000" opacity="1" filter="url(#soft)"/></g>
<g clip-path="url(#cML)"><ellipse cx="31.5" cy="88.5" rx="6.5" ry="4.5" fill="#ffd200" opacity="1" filter="url(#soft)"/></g>
<g clip-path="url(#cML)"><ellipse cx="31" cy="88.3" rx="4" ry="3" fill="#fff8b8" opacity="1" filter="url(#soft)"/></g>
<g clip-path="url(#cMR)"><ellipse cx="63" cy="89" rx="10.5" ry="6.5" fill="#e81000" opacity="0.9" filter="url(#patch2)"/></g>
<g clip-path="url(#cMR)"><ellipse cx="63" cy="89" rx="8.5" ry="5.5" fill="#ff6000" opacity="1" filter="url(#soft)"/></g>
<g clip-path="url(#cMR)"><ellipse cx="62.5" cy="89" rx="6.5" ry="4.5" fill="#ffd200" opacity="1" filter="url(#soft)"/></g>
<g clip-path="url(#cMR)"><ellipse cx="62.4" cy="89.3" rx="4" ry="3" fill="#fff8b8" opacity="1" filter="url(#soft)"/></g>
<use href="#sLL" fill="#000" filter="url(#txLL)" opacity="0.12"/>
<use href="#sLR" fill="#000" filter="url(#txLR)" opacity="0.12"/>
<use href="#sML" fill="#000" filter="url(#txML)" opacity="0.12"/>
<use href="#sMR" fill="#000" filter="url(#txMR)" opacity="0.12"/>
<circle cx="23.2" cy="23" r="0.9" fill="#1020ff"/>
<circle cx="31.2" cy="25.5" r="0.9" fill="#1020ff"/>
<circle cx="22.2" cy="33" r="0.9" fill="#1020ff"/>
<circle cx="31" cy="34" r="0.9" fill="#1020ff"/>
<circle cx="24.2" cy="47.8" r="0.9" fill="#1020ff"/>
<circle cx="23" cy="52.6" r="0.9" fill="#1020ff"/>
<circle cx="32.7" cy="47.2" r="0.9" fill="#1020ff"/>
<circle cx="33.3" cy="51.3" r="0.9" fill="#1020ff"/>
</g>
</g>
<g transform="translate(457.08,0)">
<text x="47.50" y="6.80" font-size="8.8" text-anchor="middle" fill="#111" font-weight="normal" >PRF 3000 DC 10%</text>
<rect x="90.4" y="6" width="5.2" height="98" fill="url(#hot)" stroke="#aaa" stroke-width="0.4"/>
<line x1="90.20" y1="6.00" x2="98.00" y2="6.00" stroke="#888" stroke-width="0.5" />
<text x="98.50" y="9.20" font-size="8.8" text-anchor="start" fill="#111" font-weight="normal" >100</text>
<text x="98.50" y="107.20" font-size="8.8" text-anchor="start" fill="#111" font-weight="normal" >61</text>
<text x="108.90" y="54.20" font-size="8.9" text-anchor="middle" fill="#111" font-weight="normal" transform="rotate(-90 108.9 54.2)" >Activation (%)</text>
<g transform="translate(0.40,0)">
<use href="#sDL" fill="#d6d6d6" stroke="#a0a0a0" stroke-width="0.4"/>
<use href="#sDR" fill="#d6d6d6" stroke="#a0a0a0" stroke-width="0.4"/>
<use href="#sLL" fill="#d6d6d6" stroke="#a0a0a0" stroke-width="0.4"/>
<use href="#sLR" fill="#d6d6d6" stroke="#a0a0a0" stroke-width="0.4"/>
<use href="#sML" fill="#d6d6d6" stroke="#a0a0a0" stroke-width="0.4"/>
<use href="#sMR" fill="#d6d6d6" stroke="#a0a0a0" stroke-width="0.4"/>
<use href="#sDL" fill="#000" filter="url(#txDL)" opacity="0.72"/>
<g clip-path="url(#cDL)"><use href="#sulDL" fill="none" stroke="#4a4a4a" stroke-width="0.9" stroke-linecap="round" stroke-linejoin="round" opacity="0.85"/></g>
<use href="#sDR" fill="#000" filter="url(#txDR)" opacity="0.72"/>
<g clip-path="url(#cDR)"><use href="#sulDR" fill="none" stroke="#4a4a4a" stroke-width="0.9" stroke-linecap="round" stroke-linejoin="round" opacity="0.85"/></g>
<use href="#sLL" fill="#000" filter="url(#txLL)" opacity="0.72"/>
<g clip-path="url(#cLL)"><use href="#sulLL" fill="none" stroke="#4a4a4a" stroke-width="0.9" stroke-linecap="round" stroke-linejoin="round" opacity="0.85"/></g>
<use href="#sLR" fill="#000" filter="url(#txLR)" opacity="0.72"/>
<g clip-path="url(#cLR)"><use href="#sulLR" fill="none" stroke="#4a4a4a" stroke-width="0.9" stroke-linecap="round" stroke-linejoin="round" opacity="0.85"/></g>
<use href="#sML" fill="#000" filter="url(#txML)" opacity="0.72"/>
<g clip-path="url(#cML)"><use href="#sulML" fill="none" stroke="#4a4a4a" stroke-width="0.9" stroke-linecap="round" stroke-linejoin="round" opacity="0.85"/></g>
<use href="#sMR" fill="#000" filter="url(#txMR)" opacity="0.72"/>
<g clip-path="url(#cMR)"><use href="#sulMR" fill="none" stroke="#4a4a4a" stroke-width="0.9" stroke-linecap="round" stroke-linejoin="round" opacity="0.85"/></g>
<g clip-path="url(#cDL)"><ellipse cx="36.0" cy="24" rx="0.9" ry="9" fill="#ff6000" opacity="0.8" filter="url(#soft)"/></g>
<g clip-path="url(#cDR)"><ellipse cx="58.3" cy="25" rx="0.9" ry="6" fill="#e81000" opacity="0.5" filter="url(#patch)"/></g>
<g clip-path="url(#cLL)"><ellipse cx="32" cy="70" rx="12" ry="3.5" fill="#e81000" opacity="0.8" filter="url(#patch)"/></g>
<g clip-path="url(#cLL)"><ellipse cx="30" cy="66" rx="6" ry="2" fill="#ff6000" opacity="0.6" filter="url(#patch)"/></g>
<g clip-path="url(#cLL)"><ellipse cx="19.8" cy="65" rx="2.5" ry="2" fill="#ff6000" opacity="0.9" filter="url(#soft)"/></g>
<g clip-path="url(#cLL)"><ellipse cx="23.6" cy="71.8" rx="2" ry="1.5" fill="#ffd200" opacity="0.8" filter="url(#soft)"/></g>
<g clip-path="url(#cLR)"><ellipse cx="66" cy="68" rx="13" ry="3.5" fill="#e81000" opacity="0.8" filter="url(#patch)"/></g>
<g clip-path="url(#cLR)"><ellipse cx="70" cy="63" rx="6" ry="2.5" fill="#ff6000" opacity="0.6" filter="url(#patch)"/></g>
<g clip-path="url(#cLR)"><ellipse cx="63" cy="59.3" rx="3" ry="2" fill="#ffd200" opacity="0.9" filter="url(#soft)"/></g>
<g clip-path="url(#cLR)"><ellipse cx="53.5" cy="65" rx="2.5" ry="2" fill="#ff6000" opacity="0.9" filter="url(#soft)"/></g>
<g clip-path="url(#cML)"><ellipse cx="30" cy="93.5" rx="13" ry="5" fill="#e81000" opacity="0.85" filter="url(#patch2)"/></g>
<g clip-path="url(#cML)"><ellipse cx="27" cy="97" rx="12" ry="2.5" fill="#e81000" opacity="0.9" filter="url(#patch)"/></g>
<g clip-path="url(#cML)"><ellipse cx="35" cy="92" rx="7.5" ry="4.5" fill="#ff6000" opacity="1" filter="url(#patch2)"/></g>
<g clip-path="url(#cML)"><ellipse cx="35" cy="92" rx="6" ry="3.5" fill="#ff6000" opacity="0.9" filter="url(#soft)"/></g>
<g clip-path="url(#cML)"><ellipse cx="36" cy="93" rx="3" ry="2.5" fill="#ffd200" opacity="0.95" filter="url(#soft)"/></g>
<g clip-path="url(#cMR)"><ellipse cx="64" cy="92.5" rx="12" ry="5.5" fill="#ff6000" opacity="0.9" filter="url(#patch2)"/></g>
<g clip-path="url(#cMR)"><ellipse cx="73" cy="95" rx="6" ry="3.5" fill="#e81000" opacity="0.9" filter="url(#patch)"/></g>
<g clip-path="url(#cMR)"><ellipse cx="61" cy="92" rx="7" ry="4.5" fill="#ff6000" opacity="1" filter="url(#soft)"/></g>
<g clip-path="url(#cMR)"><ellipse cx="60" cy="92" rx="5" ry="3.5" fill="#ffd200" opacity="0.95" filter="url(#soft)"/></g>
<g clip-path="url(#cMR)"><ellipse cx="59.2" cy="92.5" rx="2.5" ry="2" fill="#fff8b8" opacity="0.9" filter="url(#soft)"/></g>
<use href="#sLL" fill="#000" filter="url(#txLL)" opacity="0.12"/>
<use href="#sLR" fill="#000" filter="url(#txLR)" opacity="0.12"/>
<use href="#sML" fill="#000" filter="url(#txML)" opacity="0.12"/>
<use href="#sMR" fill="#000" filter="url(#txMR)" opacity="0.12"/>
<circle cx="23.2" cy="23" r="0.9" fill="#1020ff"/>
<circle cx="31.2" cy="25.5" r="0.9" fill="#1020ff"/>
<circle cx="22.2" cy="33" r="0.9" fill="#1020ff"/>
<circle cx="31" cy="34" r="0.9" fill="#1020ff"/>
<circle cx="24.2" cy="47.8" r="0.9" fill="#1020ff"/>
<circle cx="23" cy="52.6" r="0.9" fill="#1020ff"/>
<circle cx="32.7" cy="47.2" r="0.9" fill="#1020ff"/>
<circle cx="33.3" cy="51.3" r="0.9" fill="#1020ff"/>
</g>
</g>
<g transform="translate(571.35,0)">
<text x="47.50" y="6.80" font-size="8.8" text-anchor="middle" fill="#111" font-weight="normal" >PRF 30 DC 10%</text>
<rect x="90.4" y="6" width="5.2" height="98" fill="url(#hot)" stroke="#aaa" stroke-width="0.4"/>
<line x1="90.20" y1="6.00" x2="98.00" y2="6.00" stroke="#888" stroke-width="0.5" />
<text x="98.50" y="9.20" font-size="8.8" text-anchor="start" fill="#111" font-weight="normal" >100</text>
<text x="98.50" y="107.20" font-size="8.8" text-anchor="start" fill="#111" font-weight="normal" >51</text>
<text x="108.90" y="54.20" font-size="8.9" text-anchor="middle" fill="#111" font-weight="normal" transform="rotate(-90 108.9 54.2)" >Activation (%)</text>
<g transform="translate(0.70,0)">
<use href="#sDL" fill="#d6d6d6" stroke="#a0a0a0" stroke-width="0.4"/>
<use href="#sDR" fill="#d6d6d6" stroke="#a0a0a0" stroke-width="0.4"/>
<use href="#sLL" fill="#d6d6d6" stroke="#a0a0a0" stroke-width="0.4"/>
<use href="#sLR" fill="#d6d6d6" stroke="#a0a0a0" stroke-width="0.4"/>
<use href="#sML" fill="#d6d6d6" stroke="#a0a0a0" stroke-width="0.4"/>
<use href="#sMR" fill="#d6d6d6" stroke="#a0a0a0" stroke-width="0.4"/>
<use href="#sDL" fill="#000" filter="url(#txDL)" opacity="0.72"/>
<g clip-path="url(#cDL)"><use href="#sulDL" fill="none" stroke="#4a4a4a" stroke-width="0.9" stroke-linecap="round" stroke-linejoin="round" opacity="0.85"/></g>
<use href="#sDR" fill="#000" filter="url(#txDR)" opacity="0.72"/>
<g clip-path="url(#cDR)"><use href="#sulDR" fill="none" stroke="#4a4a4a" stroke-width="0.9" stroke-linecap="round" stroke-linejoin="round" opacity="0.85"/></g>
<use href="#sLL" fill="#000" filter="url(#txLL)" opacity="0.72"/>
<g clip-path="url(#cLL)"><use href="#sulLL" fill="none" stroke="#4a4a4a" stroke-width="0.9" stroke-linecap="round" stroke-linejoin="round" opacity="0.85"/></g>
<use href="#sLR" fill="#000" filter="url(#txLR)" opacity="0.72"/>
<g clip-path="url(#cLR)"><use href="#sulLR" fill="none" stroke="#4a4a4a" stroke-width="0.9" stroke-linecap="round" stroke-linejoin="round" opacity="0.85"/></g>
<use href="#sML" fill="#000" filter="url(#txML)" opacity="0.72"/>
<g clip-path="url(#cML)"><use href="#sulML" fill="none" stroke="#4a4a4a" stroke-width="0.9" stroke-linecap="round" stroke-linejoin="round" opacity="0.85"/></g>
<use href="#sMR" fill="#000" filter="url(#txMR)" opacity="0.72"/>
<g clip-path="url(#cMR)"><use href="#sulMR" fill="none" stroke="#4a4a4a" stroke-width="0.9" stroke-linecap="round" stroke-linejoin="round" opacity="0.85"/></g>
<g clip-path="url(#cDL)"><ellipse cx="36.0" cy="27" rx="0.9" ry="10" fill="#e81000" opacity="0.4" filter="url(#patch)"/></g>
<g clip-path="url(#cDR)"><ellipse cx="58.3" cy="28" rx="0.9" ry="8" fill="#e81000" opacity="0.4" filter="url(#patch)"/></g>
<g clip-path="url(#cLL)"><ellipse cx="19.5" cy="69" rx="4" ry="1.5" fill="#e81000" opacity="0.5" filter="url(#patch)"/></g>
<g clip-path="url(#cLL)"><ellipse cx="35" cy="61" rx="2" ry="2" fill="#e81000" opacity="0.6" filter="url(#patch)"/></g>
<g clip-path="url(#cLR)"><ellipse cx="66" cy="61" rx="4" ry="2" fill="#ff6000" opacity="0.8" filter="url(#patch)"/></g>
<g clip-path="url(#cLR)"><ellipse cx="73.5" cy="69" rx="4" ry="1.5" fill="#e81000" opacity="0.6" filter="url(#patch)"/></g>
<g clip-path="url(#cML)"><ellipse cx="33" cy="92" rx="12" ry="6.5" fill="#e81000" opacity="0.9" filter="url(#patch2)"/></g>
<g clip-path="url(#cML)"><ellipse cx="31" cy="97.5" rx="9" ry="2" fill="#e81000" opacity="0.9" filter="url(#patch)"/></g>
<g clip-path="url(#cML)"><ellipse cx="33.5" cy="92" rx="9.5" ry="5" fill="#ff6000" opacity="1" filter="url(#soft)"/></g>
<g clip-path="url(#cML)"><ellipse cx="33.5" cy="92.3" rx="7" ry="4" fill="#ffd200" opacity="1" filter="url(#soft)"/></g>
<g clip-path="url(#cML)"><ellipse cx="33" cy="92.5" rx="4" ry="2.3" fill="#fff8b8" opacity="1" filter="url(#soft)"/></g>
<g clip-path="url(#cMR)"><ellipse cx="62" cy="92" rx="11" ry="6" fill="#e81000" opacity="0.9" filter="url(#patch2)"/></g>
<g clip-path="url(#cMR)"><ellipse cx="62" cy="92" rx="8.5" ry="4.5" fill="#ff6000" opacity="1" filter="url(#soft)"/></g>
<g clip-path="url(#cMR)"><ellipse cx="62" cy="92.3" rx="6" ry="3.5" fill="#ffd200" opacity="1" filter="url(#soft)"/></g>
<g clip-path="url(#cMR)"><ellipse cx="62" cy="92.5" rx="3" ry="1.8" fill="#fff8b8" opacity="1" filter="url(#soft)"/></g>
<use href="#sLL" fill="#000" filter="url(#txLL)" opacity="0.12"/>
<use href="#sLR" fill="#000" filter="url(#txLR)" opacity="0.12"/>
<use href="#sML" fill="#000" filter="url(#txML)" opacity="0.12"/>
<use href="#sMR" fill="#000" filter="url(#txMR)" opacity="0.12"/>
<circle cx="23.2" cy="23" r="0.9" fill="#1020ff"/>
<circle cx="31.2" cy="25.5" r="0.9" fill="#1020ff"/>
<circle cx="22.2" cy="33" r="0.9" fill="#1020ff"/>
<circle cx="31" cy="34" r="0.9" fill="#1020ff"/>
<circle cx="24.2" cy="47.8" r="0.9" fill="#1020ff"/>
<circle cx="23" cy="52.6" r="0.9" fill="#1020ff"/>
<circle cx="32.7" cy="47.2" r="0.9" fill="#1020ff"/>
<circle cx="33.3" cy="51.3" r="0.9" fill="#1020ff"/>
</g>
</g>
<text x="0" y="0" font-size="8.6" font-weight="bold" fill="#111" transform="translate(0.3 7.05) scale(1 1.0)">A</text>
<text x="0" y="0" font-size="8.6" font-weight="bold" fill="#111" transform="translate(0 120.95) scale(1 1.17)">B</text>
<text x="0" y="0" font-size="8.6" font-weight="bold" fill="#111" transform="translate(344.2 120.95) scale(1 1.17)">C</text>
<line x1="33.50" y1="117.50" x2="33.50" y2="201.70" stroke="#4a4a4a" stroke-width="1" />
<line x1="33.10" y1="201.30" x2="131.30" y2="201.30" stroke="#4a4a4a" stroke-width="1" />
<line x1="31.50" y1="188.40" x2="33.10" y2="188.40" stroke="#4a4a4a" stroke-width="0.9" />
<text x="29.30" y="191.10" font-size="7.8" text-anchor="end" fill="#111" font-weight="normal" >0</text>
<line x1="31.50" y1="160.10" x2="33.10" y2="160.10" stroke="#4a4a4a" stroke-width="0.9" />
<text x="29.30" y="162.80" font-size="7.8" text-anchor="end" fill="#111" font-weight="normal" >2</text>
<line x1="31.50" y1="131.80" x2="33.10" y2="131.80" stroke="#4a4a4a" stroke-width="0.9" />
<text x="29.30" y="134.50" font-size="7.8" text-anchor="end" fill="#111" font-weight="normal" >4</text>
<line x1="70.30" y1="201.30" x2="70.30" y2="202.90" stroke="#4a4a4a" stroke-width="0.7" />
<text x="70.30" y="210.80" font-size="7.8" text-anchor="middle" fill="#111" font-weight="normal" >IL</text>
<line x1="93.90" y1="201.30" x2="93.90" y2="202.90" stroke="#4a4a4a" stroke-width="0.7" />
<text x="93.90" y="210.80" font-size="7.8" text-anchor="middle" fill="#111" font-weight="normal" >CL</text>
<text x="82.40" y="219.80" font-size="7.8" text-anchor="middle" fill="#111" font-weight="normal" >PRF 30 DC 0.6%</text>
<path d="M56.80 171.40 L56.80 171.40 L56.31 171.54 L55.65 171.73 L54.86 171.96 L53.96 172.22 L53.00 172.50 L52.00 172.80 L50.94 173.12 L49.78 173.46 L48.56 173.83 L47.29 174.21 L45.99 174.60 L44.70 175.00 L43.21 175.41 L41.46 175.85 L39.69 176.30 L38.13 176.75 L37.02 177.19 L36.60 177.60 L37.02 177.99 L38.13 178.37 L39.69 178.74 L41.46 179.10 L43.21 179.46 L44.70 179.80 L45.99 180.14 L47.29 180.49 L48.56 180.83 L49.78 181.14 L50.94 181.44 L52.00 181.70 L53.00 181.93 L53.96 182.14 L54.86 182.32 L55.65 182.47 L56.31 182.60 L56.80 182.70 L56.80 182.70 Z" fill="#a4a4a4" stroke="#3c3c3c" stroke-width="0.6" stroke-linejoin="round"/>
<path d="M107.50 167.10 L107.50 167.10 L107.60 167.17 L107.70 167.25 L107.83 167.36 L108.05 167.48 L108.39 167.63 L108.90 167.80 L109.62 168.00 L110.54 168.23 L111.58 168.48 L112.67 168.75 L113.77 169.02 L114.80 169.30 L115.76 169.57 L116.69 169.85 L117.61 170.13 L118.56 170.43 L119.55 170.75 L120.60 171.10 L121.87 171.48 L123.36 171.89 L124.89 172.31 L126.28 172.76 L127.34 173.22 L127.90 173.70 L127.86 174.19 L127.35 174.71 L126.52 175.24 L125.50 175.78 L124.45 176.34 L123.50 176.90 L122.62 177.48 L121.67 178.09 L120.69 178.71 L119.69 179.33 L118.69 179.93 L117.70 180.50 L116.70 181.04 L115.68 181.57 L114.66 182.09 L113.65 182.58 L112.69 183.05 L111.80 183.50 L110.94 183.94 L110.09 184.37 L109.28 184.79 L108.56 185.16 L107.95 185.47 L107.50 185.70 L107.50 185.70 Z" fill="#d9d9d9" stroke="#3c3c3c" stroke-width="0.6" stroke-linejoin="round"/>
<line x1="56.80" y1="172.30" x2="56.80" y2="181.80" stroke="#333" stroke-width="0.6" />
<line x1="54.80" y1="172.30" x2="58.80" y2="172.30" stroke="#333" stroke-width="0.6" />
<line x1="54.80" y1="181.80" x2="58.80" y2="181.80" stroke="#333" stroke-width="0.6" />
<rect x="52.40" y="176.20" width="8.80" height="2.90" fill="#a9a9a9" stroke="#333" stroke-width="0.8"/>
<line x1="52.40" y1="177.60" x2="61.20" y2="177.60" stroke="#333" stroke-width="0.7" />
<line x1="107.50" y1="168.50" x2="107.50" y2="181.30" stroke="#333" stroke-width="0.6" />
<line x1="105.50" y1="168.50" x2="109.50" y2="168.50" stroke="#333" stroke-width="0.6" />
<line x1="105.50" y1="181.30" x2="109.50" y2="181.30" stroke="#333" stroke-width="0.6" />
<rect x="103.10" y="172.80" width="8.80" height="4.40" fill="#e4e4e4" stroke="#333" stroke-width="0.8"/>
<line x1="103.10" y1="175.10" x2="111.90" y2="175.10" stroke="#333" stroke-width="0.7" />
<line x1="70.30" y1="173.80" x2="93.90" y2="172.00" stroke="#b4b4b4" stroke-width="0.5" stroke-dasharray="0.9 0.8" stroke-dashoffset="0.55"/>
<rect x="69.40" y="173.35" width="1.8" height="0.9" fill="#666"/>
<rect x="93.00" y="171.55" width="1.8" height="0.9" fill="#666"/>
<line x1="70.30" y1="174.60" x2="93.90" y2="173.00" stroke="#b4b4b4" stroke-width="0.5" stroke-dasharray="0.9 0.8" stroke-dashoffset="0.26"/>
<rect x="69.40" y="174.15" width="1.8" height="0.9" fill="#666"/>
<rect x="93.00" y="172.55" width="1.8" height="0.9" fill="#666"/>
<line x1="70.30" y1="175.40" x2="93.90" y2="174.40" stroke="#b4b4b4" stroke-width="0.5" stroke-dasharray="0.9 0.8" stroke-dashoffset="1.11"/>
<rect x="69.40" y="174.95" width="1.8" height="0.9" fill="#666"/>
<rect x="93.00" y="173.95" width="1.8" height="0.9" fill="#666"/>
<line x1="70.30" y1="177.20" x2="93.90" y2="176.50" stroke="#b4b4b4" stroke-width="0.5" stroke-dasharray="0.9 0.8" stroke-dashoffset="0.12"/>
<rect x="69.40" y="176.75" width="1.8" height="0.9" fill="#666"/>
<rect x="93.00" y="176.05" width="1.8" height="0.9" fill="#666"/>
<line x1="70.30" y1="178.00" x2="93.90" y2="178.60" stroke="#b4b4b4" stroke-width="0.5" stroke-dasharray="0.9 0.8" stroke-dashoffset="0.91"/>
<rect x="69.40" y="177.55" width="1.8" height="0.9" fill="#666"/>
<rect x="93.00" y="178.15" width="1.8" height="0.9" fill="#666"/>
<line x1="70.30" y1="179.30" x2="93.90" y2="181.30" stroke="#b4b4b4" stroke-width="0.5" stroke-dasharray="0.9 0.8" stroke-dashoffset="0.62"/>
<rect x="69.40" y="178.85" width="1.8" height="0.9" fill="#666"/>
<rect x="93.00" y="180.85" width="1.8" height="0.9" fill="#666"/>
<line x1="70.30" y1="170.50" x2="93.90" y2="170.50" stroke="#3a3a3a" stroke-width="1.0" />
<text x="82.10" y="168.70" font-size="7.8" text-anchor="middle" fill="#111" font-weight="normal" >ns</text>
<line x1="138.70" y1="117.50" x2="138.70" y2="201.70" stroke="#4a4a4a" stroke-width="1" />
<line x1="138.30" y1="201.30" x2="236.50" y2="201.30" stroke="#4a4a4a" stroke-width="1" />
<line x1="136.70" y1="188.40" x2="138.30" y2="188.40" stroke="#4a4a4a" stroke-width="0.9" />
<line x1="136.70" y1="160.10" x2="138.30" y2="160.10" stroke="#4a4a4a" stroke-width="0.9" />
<line x1="136.70" y1="131.80" x2="138.30" y2="131.80" stroke="#4a4a4a" stroke-width="0.9" />
<line x1="175.50" y1="201.30" x2="175.50" y2="202.90" stroke="#4a4a4a" stroke-width="0.7" />
<text x="175.50" y="210.80" font-size="7.8" text-anchor="middle" fill="#111" font-weight="normal" >IL</text>
<line x1="199.10" y1="201.30" x2="199.10" y2="202.90" stroke="#4a4a4a" stroke-width="0.7" />
<text x="199.10" y="210.80" font-size="7.8" text-anchor="middle" fill="#111" font-weight="normal" >CL</text>
<text x="187.60" y="219.80" font-size="7.8" text-anchor="middle" fill="#111" font-weight="normal" >PRF 40 DC 30%</text>
<path d="M162.00 159.40 L162.00 159.40 L161.82 159.70 L161.60 160.10 L161.33 160.58 L160.99 161.11 L160.58 161.70 L160.10 162.30 L159.53 162.96 L158.87 163.69 L158.14 164.46 L157.36 165.24 L156.54 166.00 L155.70 166.70 L154.85 167.34 L153.97 167.94 L153.06 168.52 L152.09 169.09 L151.04 169.68 L149.90 170.30 L148.48 170.96 L146.74 171.63 L144.94 172.33 L143.29 173.02 L142.03 173.72 L141.40 174.40 L141.50 175.08 L142.16 175.76 L143.21 176.43 L144.49 177.10 L145.81 177.76 L147.00 178.40 L148.14 179.03 L149.36 179.66 L150.64 180.27 L151.91 180.87 L153.15 181.45 L154.30 182.00 L155.40 182.55 L156.49 183.10 L157.54 183.62 L158.51 184.11 L159.38 184.55 L160.10 184.90 L160.66 185.16 L161.09 185.35 L161.41 185.48 L161.65 185.57 L161.84 185.64 L162.00 185.70 L162.00 185.70 Z" fill="#a4a4a4" stroke="#3c3c3c" stroke-width="0.6" stroke-linejoin="round"/>
<path d="M212.70 164.90 L212.70 164.90 L212.98 165.25 L213.34 165.74 L213.79 166.31 L214.31 166.93 L214.92 167.54 L215.60 168.10 L216.38 168.62 L217.26 169.15 L218.23 169.67 L219.25 170.17 L220.31 170.65 L221.40 171.10 L222.56 171.50 L223.83 171.86 L225.14 172.20 L226.43 172.53 L227.63 172.85 L228.70 173.20 L229.70 173.55 L230.71 173.90 L231.63 174.24 L232.39 174.60 L232.91 174.99 L233.10 175.40 L232.91 175.85 L232.39 176.32 L231.63 176.81 L230.71 177.33 L229.70 177.86 L228.70 178.40 L227.63 178.98 L226.43 179.59 L225.14 180.23 L223.83 180.85 L222.56 181.45 L221.40 182.00 L220.31 182.51 L219.25 183.00 L218.23 183.46 L217.26 183.88 L216.38 184.27 L215.60 184.60 L214.92 184.88 L214.31 185.12 L213.79 185.31 L213.34 185.47 L212.98 185.60 L212.70 185.70 L212.70 185.70 Z" fill="#d9d9d9" stroke="#3c3c3c" stroke-width="0.6" stroke-linejoin="round"/>
<line x1="162.00" y1="165.50" x2="162.00" y2="179.80" stroke="#333" stroke-width="0.6" />
<line x1="160.00" y1="165.50" x2="164.00" y2="165.50" stroke="#333" stroke-width="0.6" />
<line x1="160.00" y1="179.80" x2="164.00" y2="179.80" stroke="#333" stroke-width="0.6" />
<rect x="157.60" y="170.00" width="8.80" height="6.50" fill="#a9a9a9" stroke="#333" stroke-width="0.8"/>
<line x1="157.60" y1="173.20" x2="166.40" y2="173.20" stroke="#333" stroke-width="0.7" />
<line x1="212.70" y1="169.50" x2="212.70" y2="181.50" stroke="#333" stroke-width="0.6" />
<line x1="210.70" y1="169.50" x2="214.70" y2="169.50" stroke="#333" stroke-width="0.6" />
<line x1="210.70" y1="181.50" x2="214.70" y2="181.50" stroke="#333" stroke-width="0.6" />
<rect x="208.30" y="174.30" width="8.80" height="4.30" fill="#e4e4e4" stroke="#333" stroke-width="0.8"/>
<line x1="208.30" y1="176.50" x2="217.10" y2="176.50" stroke="#333" stroke-width="0.7" />
<line x1="175.50" y1="165.30" x2="199.10" y2="170.50" stroke="#b4b4b4" stroke-width="0.5" stroke-dasharray="0.9 0.8" stroke-dashoffset="0.10"/>
<rect x="174.60" y="164.85" width="1.8" height="0.9" fill="#666"/>
<rect x="198.20" y="170.05" width="1.8" height="0.9" fill="#666"/>
<line x1="175.50" y1="168.60" x2="199.10" y2="171.00" stroke="#b4b4b4" stroke-width="0.5" stroke-dasharray="0.9 0.8" stroke-dashoffset="0.86"/>
<rect x="174.60" y="168.15" width="1.8" height="0.9" fill="#666"/>
<rect x="198.20" y="170.55" width="1.8" height="0.9" fill="#666"/>
<line x1="175.50" y1="169.30" x2="199.10" y2="174.50" stroke="#b4b4b4" stroke-width="0.5" stroke-dasharray="0.9 0.8" stroke-dashoffset="0.06"/>
<rect x="174.60" y="168.85" width="1.8" height="0.9" fill="#666"/>
<rect x="198.20" y="174.05" width="1.8" height="0.9" fill="#666"/>
<line x1="175.50" y1="172.60" x2="199.10" y2="175.00" stroke="#b4b4b4" stroke-width="0.5" stroke-dasharray="0.9 0.8" stroke-dashoffset="0.74"/>
<rect x="174.60" y="172.15" width="1.8" height="0.9" fill="#666"/>
<rect x="198.20" y="174.55" width="1.8" height="0.9" fill="#666"/>
<line x1="175.50" y1="173.40" x2="199.10" y2="177.80" stroke="#b4b4b4" stroke-width="0.5" stroke-dasharray="0.9 0.8" stroke-dashoffset="0.12"/>
<rect x="174.60" y="172.95" width="1.8" height="0.9" fill="#666"/>
<rect x="198.20" y="177.35" width="1.8" height="0.9" fill="#666"/>
<line x1="175.50" y1="176.00" x2="199.10" y2="178.50" stroke="#b4b4b4" stroke-width="0.5" stroke-dasharray="0.9 0.8" stroke-dashoffset="0.15"/>
<rect x="174.60" y="175.55" width="1.8" height="0.9" fill="#666"/>
<rect x="198.20" y="178.05" width="1.8" height="0.9" fill="#666"/>
<line x1="175.50" y1="179.50" x2="199.10" y2="180.30" stroke="#b4b4b4" stroke-width="0.5" stroke-dasharray="0.9 0.8" stroke-dashoffset="0.72"/>
<rect x="174.60" y="179.05" width="1.8" height="0.9" fill="#666"/>
<rect x="198.20" y="179.85" width="1.8" height="0.9" fill="#666"/>
<line x1="175.50" y1="160.50" x2="199.10" y2="160.50" stroke="#3a3a3a" stroke-width="1.0" />
<text x="187.30" y="159.10" font-size="7.8" text-anchor="middle" fill="#111" font-weight="normal" >ns</text>
<line x1="244.00" y1="117.50" x2="244.00" y2="201.70" stroke="#4a4a4a" stroke-width="1" />
<line x1="243.60" y1="201.30" x2="341.80" y2="201.30" stroke="#4a4a4a" stroke-width="1" />
<line x1="242.00" y1="188.40" x2="243.60" y2="188.40" stroke="#4a4a4a" stroke-width="0.9" />
<line x1="242.00" y1="160.10" x2="243.60" y2="160.10" stroke="#4a4a4a" stroke-width="0.9" />
<line x1="242.00" y1="131.80" x2="243.60" y2="131.80" stroke="#4a4a4a" stroke-width="0.9" />
<line x1="280.80" y1="201.30" x2="280.80" y2="202.90" stroke="#4a4a4a" stroke-width="0.7" />
<text x="280.80" y="210.80" font-size="7.8" text-anchor="middle" fill="#111" font-weight="normal" >IL</text>
<line x1="304.40" y1="201.30" x2="304.40" y2="202.90" stroke="#4a4a4a" stroke-width="0.7" />
<text x="304.40" y="210.80" font-size="7.8" text-anchor="middle" fill="#111" font-weight="normal" >CL</text>
<text x="292.90" y="219.80" font-size="7.8" text-anchor="middle" fill="#111" font-weight="normal" >PRF 1500 DC 30%</text>
<path d="M267.30 122.60 L267.30 122.60 L267.15 123.43 L266.93 124.57 L266.68 125.93 L266.42 127.39 L266.19 128.85 L266.00 130.20 L265.85 131.45 L265.72 132.70 L265.61 133.95 L265.53 135.20 L265.49 136.45 L265.50 137.70 L265.60 138.96 L265.80 140.23 L266.03 141.49 L266.26 142.76 L266.43 144.03 L266.50 145.30 L266.46 146.57 L266.35 147.83 L266.19 149.10 L265.98 150.37 L265.75 151.63 L265.50 152.90 L265.26 154.20 L265.02 155.53 L264.75 156.86 L264.43 158.16 L264.02 159.38 L263.50 160.50 L262.87 161.48 L262.15 162.36 L261.35 163.16 L260.47 163.92 L259.52 164.69 L258.50 165.50 L257.35 166.35 L256.05 167.23 L254.67 168.10 L253.31 168.96 L252.02 169.80 L250.90 170.60 L249.85 171.33 L248.80 172.00 L247.84 172.65 L247.04 173.31 L246.50 174.01 L246.30 174.80 L246.50 175.70 L247.04 176.67 L247.84 177.70 L248.80 178.74 L249.85 179.75 L250.90 180.70 L252.01 181.57 L253.26 182.39 L254.59 183.17 L255.95 183.97 L257.27 184.80 L258.50 185.70 L259.67 186.70 L260.84 187.80 L261.97 188.92 L263.03 190.04 L263.98 191.08 L264.80 192.00 L265.47 192.82 L266.01 193.59 L266.44 194.29 L266.79 194.91 L267.07 195.42 L267.30 195.80 L267.30 195.80 Z" fill="#a4a4a4" stroke="#3c3c3c" stroke-width="0.6" stroke-linejoin="round"/>
<path d="M318.00 130.20 L318.00 130.20 L318.10 131.01 L318.25 132.14 L318.42 133.47 L318.59 134.91 L318.72 136.36 L318.80 137.70 L318.80 138.96 L318.74 140.23 L318.65 141.49 L318.56 142.76 L318.50 144.03 L318.50 145.30 L318.55 146.58 L318.62 147.88 L318.73 149.18 L318.87 150.46 L319.06 151.71 L319.30 152.90 L319.56 154.04 L319.82 155.14 L320.12 156.21 L320.53 157.24 L321.07 158.24 L321.80 159.20 L322.76 160.09 L323.91 160.89 L325.21 161.66 L326.59 162.44 L328.00 163.27 L329.40 164.20 L330.99 165.24 L332.85 166.36 L334.75 167.52 L336.44 168.72 L337.67 169.92 L338.20 171.10 L337.88 172.27 L336.88 173.45 L335.42 174.64 L333.74 175.81 L332.06 176.97 L330.60 178.10 L329.29 179.20 L327.94 180.30 L326.59 181.37 L325.28 182.41 L324.07 183.43 L323.00 184.40 L322.06 185.35 L321.22 186.29 L320.48 187.19 L319.82 188.04 L319.26 188.81 L318.80 189.50 L318.46 190.10 L318.25 190.62 L318.14 191.07 L318.08 191.45 L318.05 191.76 L318.00 192.00 L318.00 192.00 Z" fill="#d9d9d9" stroke="#3c3c3c" stroke-width="0.6" stroke-linejoin="round"/>
<line x1="267.30" y1="168.00" x2="267.30" y2="180.20" stroke="#333" stroke-width="0.6" />
<line x1="265.30" y1="168.00" x2="269.30" y2="168.00" stroke="#333" stroke-width="0.6" />
<line x1="265.30" y1="180.20" x2="269.30" y2="180.20" stroke="#333" stroke-width="0.6" />
<rect x="262.90" y="171.00" width="8.80" height="5.90" fill="#a9a9a9" stroke="#333" stroke-width="0.8"/>
<line x1="262.90" y1="174.00" x2="271.70" y2="174.00" stroke="#333" stroke-width="0.7" />
<line x1="318.00" y1="164.00" x2="318.00" y2="180.20" stroke="#333" stroke-width="0.6" />
<line x1="316.00" y1="164.00" x2="320.00" y2="164.00" stroke="#333" stroke-width="0.6" />
<line x1="316.00" y1="180.20" x2="320.00" y2="180.20" stroke="#333" stroke-width="0.6" />
<rect x="313.60" y="166.80" width="8.80" height="6.30" fill="#e4e4e4" stroke="#333" stroke-width="0.8"/>
<line x1="313.60" y1="171.50" x2="322.40" y2="171.50" stroke="#333" stroke-width="0.7" />
<line x1="280.80" y1="138.50" x2="304.40" y2="142.30" stroke="#b4b4b4" stroke-width="0.5" stroke-dasharray="0.9 0.8" stroke-dashoffset="1.41"/>
<rect x="279.90" y="138.05" width="1.8" height="0.9" fill="#666"/>
<rect x="303.50" y="141.85" width="1.8" height="0.9" fill="#666"/>
<line x1="280.80" y1="169.70" x2="304.40" y2="166.30" stroke="#b4b4b4" stroke-width="0.5" stroke-dasharray="0.9 0.8" stroke-dashoffset="0.21"/>
<rect x="279.90" y="169.25" width="1.8" height="0.9" fill="#666"/>
<rect x="303.50" y="165.85" width="1.8" height="0.9" fill="#666"/>
<line x1="280.80" y1="170.50" x2="304.40" y2="169.30" stroke="#b4b4b4" stroke-width="0.5" stroke-dasharray="0.9 0.8" stroke-dashoffset="0.38"/>
<rect x="279.90" y="170.05" width="1.8" height="0.9" fill="#666"/>
<rect x="303.50" y="168.85" width="1.8" height="0.9" fill="#666"/>
<line x1="280.80" y1="173.70" x2="304.40" y2="172.20" stroke="#b4b4b4" stroke-width="0.5" stroke-dasharray="0.9 0.8" stroke-dashoffset="1.07"/>
<rect x="279.90" y="173.25" width="1.8" height="0.9" fill="#666"/>
<rect x="303.50" y="171.75" width="1.8" height="0.9" fill="#666"/>
<line x1="280.80" y1="174.50" x2="304.40" y2="172.80" stroke="#b4b4b4" stroke-width="0.5" stroke-dasharray="0.9 0.8" stroke-dashoffset="1.61"/>
<rect x="279.90" y="174.05" width="1.8" height="0.9" fill="#666"/>
<rect x="303.50" y="172.35" width="1.8" height="0.9" fill="#666"/>
<line x1="280.80" y1="176.70" x2="304.40" y2="176.30" stroke="#b4b4b4" stroke-width="0.5" stroke-dasharray="0.9 0.8" stroke-dashoffset="0.98"/>
<rect x="279.90" y="176.25" width="1.8" height="0.9" fill="#666"/>
<rect x="303.50" y="175.85" width="1.8" height="0.9" fill="#666"/>
<line x1="280.80" y1="180.00" x2="304.40" y2="179.50" stroke="#b4b4b4" stroke-width="0.5" stroke-dasharray="0.9 0.8" stroke-dashoffset="0.67"/>
<rect x="279.90" y="179.55" width="1.8" height="0.9" fill="#666"/>
<rect x="303.50" y="179.05" width="1.8" height="0.9" fill="#666"/>
<line x1="280.80" y1="133.50" x2="304.40" y2="133.50" stroke="#3a3a3a" stroke-width="1.0" />
<text x="292.60" y="132.10" font-size="7.8" text-anchor="middle" fill="#111" font-weight="normal" >ns</text>
<text x="21.3" y="159.0" font-size="7.8" text-anchor="middle" fill="#111" transform="rotate(-90 21.3 159.0)">Mean ROI Activity (<tspan font-style="italic">z</tspan><tspan font-size="5.2" dy="1.6" font-style="italic">SSPM</tspan><tspan dy="-1.6">)</tspan></text>
<line x1="33.50" y1="227.00" x2="33.50" y2="311.30" stroke="#4a4a4a" stroke-width="1" />
<line x1="33.10" y1="310.90" x2="131.30" y2="310.90" stroke="#4a4a4a" stroke-width="1" />
<line x1="31.50" y1="298.10" x2="33.10" y2="298.10" stroke="#4a4a4a" stroke-width="0.9" />
<text x="29.30" y="300.80" font-size="7.8" text-anchor="end" fill="#111" font-weight="normal" >0</text>
<line x1="31.50" y1="269.80" x2="33.10" y2="269.80" stroke="#4a4a4a" stroke-width="0.9" />
<text x="29.30" y="272.50" font-size="7.8" text-anchor="end" fill="#111" font-weight="normal" >2</text>
<line x1="31.50" y1="241.50" x2="33.10" y2="241.50" stroke="#4a4a4a" stroke-width="0.9" />
<text x="29.30" y="244.20" font-size="7.8" text-anchor="end" fill="#111" font-weight="normal" >4</text>
<line x1="70.30" y1="310.90" x2="70.30" y2="312.50" stroke="#4a4a4a" stroke-width="0.7" />
<text x="70.30" y="320.40" font-size="7.8" text-anchor="middle" fill="#111" font-weight="normal" >IL</text>
<line x1="93.90" y1="310.90" x2="93.90" y2="312.50" stroke="#4a4a4a" stroke-width="0.7" />
<text x="93.90" y="320.40" font-size="7.8" text-anchor="middle" fill="#111" font-weight="normal" >CL</text>
<text x="82.40" y="329.70" font-size="7.8" text-anchor="middle" fill="#111" font-weight="normal" >PRF 3000 DC 0.6%</text>
<path d="M56.80 274.00 L56.80 274.00 L56.55 274.37 L56.22 274.87 L55.82 275.47 L55.35 276.12 L54.81 276.78 L54.20 277.40 L53.52 278.01 L52.77 278.65 L51.94 279.30 L51.06 279.94 L50.11 280.54 L49.10 281.10 L47.99 281.60 L46.77 282.05 L45.48 282.48 L44.19 282.88 L42.94 283.29 L41.80 283.70 L40.64 284.12 L39.39 284.53 L38.19 284.93 L37.17 285.34 L36.47 285.76 L36.20 286.20 L36.47 286.66 L37.17 287.14 L38.19 287.62 L39.39 288.12 L40.64 288.61 L41.80 289.10 L42.94 289.58 L44.16 290.07 L45.44 290.55 L46.71 291.03 L47.95 291.52 L49.10 292.00 L50.20 292.50 L51.29 293.02 L52.34 293.54 L53.31 294.04 L54.18 294.50 L54.90 294.90 L55.46 295.25 L55.89 295.56 L56.21 295.83 L56.45 296.06 L56.64 296.25 L56.80 296.40 L56.80 296.40 Z" fill="#a4a4a4" stroke="#3c3c3c" stroke-width="0.6" stroke-linejoin="round"/>
<path d="M107.50 275.20 L107.50 275.20 L107.92 275.44 L108.45 275.77 L109.10 276.16 L109.87 276.59 L110.77 277.01 L111.80 277.40 L113.06 277.76 L114.56 278.11 L116.19 278.46 L117.83 278.81 L119.34 279.19 L120.60 279.60 L121.61 280.03 L122.45 280.49 L123.17 280.96 L123.81 281.45 L124.40 281.96 L125.00 282.50 L125.64 283.08 L126.29 283.70 L126.91 284.35 L127.42 285.00 L127.77 285.62 L127.90 286.20 L127.80 286.74 L127.53 287.25 L127.09 287.74 L126.51 288.21 L125.81 288.67 L125.00 289.10 L124.02 289.51 L122.84 289.89 L121.54 290.24 L120.19 290.59 L118.89 290.94 L117.70 291.30 L116.62 291.68 L115.57 292.06 L114.56 292.45 L113.60 292.83 L112.67 293.18 L111.80 293.50 L110.94 293.80 L110.09 294.08 L109.28 294.34 L108.56 294.57 L107.95 294.76 L107.50 294.90 L107.50 294.90 Z" fill="#d9d9d9" stroke="#3c3c3c" stroke-width="0.6" stroke-linejoin="round"/>
<line x1="56.80" y1="281.00" x2="56.80" y2="291.30" stroke="#333" stroke-width="0.6" />
<line x1="54.80" y1="281.00" x2="58.80" y2="281.00" stroke="#333" stroke-width="0.6" />
<line x1="54.80" y1="291.30" x2="58.80" y2="291.30" stroke="#333" stroke-width="0.6" />
<rect x="52.40" y="284.30" width="8.80" height="3.30" fill="#a9a9a9" stroke="#333" stroke-width="0.8"/>
<line x1="52.40" y1="285.90" x2="61.20" y2="285.90" stroke="#333" stroke-width="0.7" />
<line x1="107.50" y1="279.90" x2="107.50" y2="293.50" stroke="#333" stroke-width="0.6" />
<line x1="105.50" y1="279.90" x2="109.50" y2="279.90" stroke="#333" stroke-width="0.6" />
<line x1="105.50" y1="293.50" x2="109.50" y2="293.50" stroke="#333" stroke-width="0.6" />
<rect x="103.10" y="282.20" width="8.80" height="5.70" fill="#e4e4e4" stroke="#333" stroke-width="0.8"/>
<line x1="103.10" y1="285.20" x2="111.90" y2="285.20" stroke="#333" stroke-width="0.7" />
<line x1="70.30" y1="279.40" x2="93.90" y2="280.50" stroke="#b4b4b4" stroke-width="0.5" stroke-dasharray="0.9 0.8" stroke-dashoffset="1.66"/>
<rect x="69.40" y="278.95" width="1.8" height="0.9" fill="#666"/>
<rect x="93.00" y="280.05" width="1.8" height="0.9" fill="#666"/>
<line x1="70.30" y1="284.50" x2="93.90" y2="282.50" stroke="#b4b4b4" stroke-width="0.5" stroke-dasharray="0.9 0.8" stroke-dashoffset="0.08"/>
<rect x="69.40" y="284.05" width="1.8" height="0.9" fill="#666"/>
<rect x="93.00" y="282.05" width="1.8" height="0.9" fill="#666"/>
<line x1="70.30" y1="285.20" x2="93.90" y2="283.60" stroke="#b4b4b4" stroke-width="0.5" stroke-dasharray="0.9 0.8" stroke-dashoffset="1.46"/>
<rect x="69.40" y="284.75" width="1.8" height="0.9" fill="#666"/>
<rect x="93.00" y="283.15" width="1.8" height="0.9" fill="#666"/>
<line x1="70.30" y1="286.30" x2="93.90" y2="286.30" stroke="#b4b4b4" stroke-width="0.5" stroke-dasharray="0.9 0.8" stroke-dashoffset="0.49"/>
<rect x="69.40" y="285.85" width="1.8" height="0.9" fill="#666"/>
<rect x="93.00" y="285.85" width="1.8" height="0.9" fill="#666"/>
<line x1="70.30" y1="287.00" x2="93.90" y2="286.80" stroke="#b4b4b4" stroke-width="0.5" stroke-dasharray="0.9 0.8" stroke-dashoffset="0.25"/>
<rect x="69.40" y="286.55" width="1.8" height="0.9" fill="#666"/>
<rect x="93.00" y="286.35" width="1.8" height="0.9" fill="#666"/>
<line x1="70.30" y1="288.30" x2="93.90" y2="289.20" stroke="#b4b4b4" stroke-width="0.5" stroke-dasharray="0.9 0.8" stroke-dashoffset="0.20"/>
<rect x="69.40" y="287.85" width="1.8" height="0.9" fill="#666"/>
<rect x="93.00" y="288.75" width="1.8" height="0.9" fill="#666"/>
<line x1="70.30" y1="291.30" x2="93.90" y2="289.50" stroke="#b4b4b4" stroke-width="0.5" stroke-dasharray="0.9 0.8" stroke-dashoffset="0.52"/>
<rect x="69.40" y="290.85" width="1.8" height="0.9" fill="#666"/>
<rect x="93.00" y="289.05" width="1.8" height="0.9" fill="#666"/>
<line x1="70.30" y1="274.50" x2="93.90" y2="274.50" stroke="#3a3a3a" stroke-width="1.0" />
<text x="82.10" y="273.20" font-size="7.8" text-anchor="middle" fill="#111" font-weight="normal" >ns</text>
<line x1="138.70" y1="227.00" x2="138.70" y2="311.30" stroke="#4a4a4a" stroke-width="1" />
<line x1="138.30" y1="310.90" x2="236.50" y2="310.90" stroke="#4a4a4a" stroke-width="1" />
<line x1="136.70" y1="298.10" x2="138.30" y2="298.10" stroke="#4a4a4a" stroke-width="0.9" />
<line x1="136.70" y1="269.80" x2="138.30" y2="269.80" stroke="#4a4a4a" stroke-width="0.9" />
<line x1="136.70" y1="241.50" x2="138.30" y2="241.50" stroke="#4a4a4a" stroke-width="0.9" />
<line x1="175.50" y1="310.90" x2="175.50" y2="312.50" stroke="#4a4a4a" stroke-width="0.7" />
<text x="175.50" y="320.40" font-size="7.8" text-anchor="middle" fill="#111" font-weight="normal" >IL</text>
<line x1="199.10" y1="310.90" x2="199.10" y2="312.50" stroke="#4a4a4a" stroke-width="0.7" />
<text x="199.10" y="320.40" font-size="7.8" text-anchor="middle" fill="#111" font-weight="normal" >CL</text>
<text x="187.60" y="329.70" font-size="7.8" text-anchor="middle" fill="#111" font-weight="normal" >PRF 3000 DC 10%</text>
<path d="M162.00 268.00 L162.00 268.00 L161.81 268.51 L161.56 269.21 L161.26 270.04 L160.90 270.96 L160.48 271.89 L160.00 272.80 L159.47 273.72 L158.88 274.69 L158.23 275.69 L157.52 276.69 L156.75 277.63 L155.90 278.50 L154.97 279.29 L153.97 280.01 L152.90 280.70 L151.77 281.35 L150.60 281.98 L149.40 282.60 L147.97 283.20 L146.28 283.76 L144.54 284.30 L142.98 284.83 L141.82 285.36 L141.30 285.90 L141.52 286.45 L142.33 287.00 L143.54 287.56 L144.97 288.11 L146.46 288.66 L147.80 289.20 L149.09 289.75 L150.50 290.30 L151.95 290.85 L153.38 291.39 L154.72 291.91 L155.90 292.40 L156.94 292.88 L157.91 293.35 L158.78 293.80 L159.56 294.22 L160.23 294.59 L160.80 294.90 L161.23 295.14 L161.52 295.32 L161.71 295.46 L161.83 295.56 L161.91 295.63 L162.00 295.70 L162.00 295.70 Z" fill="#a4a4a4" stroke="#3c3c3c" stroke-width="0.6" stroke-linejoin="round"/>
<path d="M212.70 263.40 L212.70 263.40 L213.01 264.08 L213.44 265.03 L213.95 266.14 L214.49 267.34 L215.02 268.52 L215.50 269.60 L215.87 270.60 L216.17 271.60 L216.46 272.58 L216.80 273.54 L217.26 274.45 L217.90 275.30 L218.76 276.10 L219.79 276.85 L220.94 277.56 L222.15 278.22 L223.36 278.83 L224.50 279.40 L225.64 279.90 L226.84 280.34 L228.04 280.73 L229.18 281.09 L230.18 281.44 L231.00 281.80 L231.64 282.15 L232.14 282.46 L232.53 282.77 L232.78 283.08 L232.90 283.42 L232.90 283.80 L232.77 284.23 L232.51 284.69 L232.13 285.17 L231.62 285.67 L230.98 286.18 L230.20 286.70 L229.23 287.23 L228.05 287.77 L226.74 288.33 L225.37 288.89 L224.04 289.45 L222.80 290.00 L221.63 290.54 L220.46 291.09 L219.31 291.63 L218.22 292.17 L217.21 292.69 L216.30 293.20 L215.49 293.72 L214.75 294.27 L214.09 294.80 L213.53 295.29 L213.06 295.70 L212.70 296.00 L212.70 296.00 Z" fill="#d9d9d9" stroke="#3c3c3c" stroke-width="0.6" stroke-linejoin="round"/>
<line x1="162.00" y1="278.50" x2="162.00" y2="289.20" stroke="#333" stroke-width="0.6" />
<line x1="160.00" y1="278.50" x2="164.00" y2="278.50" stroke="#333" stroke-width="0.6" />
<line x1="160.00" y1="289.20" x2="164.00" y2="289.20" stroke="#333" stroke-width="0.6" />
<rect x="157.60" y="282.30" width="8.80" height="5.20" fill="#a9a9a9" stroke="#333" stroke-width="0.8"/>
<line x1="157.60" y1="285.00" x2="166.40" y2="285.00" stroke="#333" stroke-width="0.7" />
<line x1="212.70" y1="270.40" x2="212.70" y2="289.20" stroke="#333" stroke-width="0.6" />
<line x1="210.70" y1="270.40" x2="214.70" y2="270.40" stroke="#333" stroke-width="0.6" />
<line x1="210.70" y1="289.20" x2="214.70" y2="289.20" stroke="#333" stroke-width="0.6" />
<rect x="208.30" y="277.70" width="8.80" height="6.10" fill="#e4e4e4" stroke="#333" stroke-width="0.8"/>
<line x1="208.30" y1="281.00" x2="217.10" y2="281.00" stroke="#333" stroke-width="0.7" />
<line x1="175.50" y1="274.10" x2="199.10" y2="283.30" stroke="#b4b4b4" stroke-width="0.5" stroke-dasharray="0.9 0.8" stroke-dashoffset="1.39"/>
<rect x="174.60" y="273.65" width="1.8" height="0.9" fill="#666"/>
<rect x="198.20" y="282.85" width="1.8" height="0.9" fill="#666"/>
<line x1="175.50" y1="278.30" x2="199.10" y2="274.30" stroke="#b4b4b4" stroke-width="0.5" stroke-dasharray="0.9 0.8" stroke-dashoffset="0.31"/>
<rect x="174.60" y="277.85" width="1.8" height="0.9" fill="#666"/>
<rect x="198.20" y="273.85" width="1.8" height="0.9" fill="#666"/>
<line x1="175.50" y1="281.40" x2="199.10" y2="270.50" stroke="#b4b4b4" stroke-width="0.5" stroke-dasharray="0.9 0.8" stroke-dashoffset="0.99"/>
<rect x="174.60" y="280.95" width="1.8" height="0.9" fill="#666"/>
<rect x="198.20" y="270.05" width="1.8" height="0.9" fill="#666"/>
<line x1="175.50" y1="284.50" x2="199.10" y2="284.10" stroke="#b4b4b4" stroke-width="0.5" stroke-dasharray="0.9 0.8" stroke-dashoffset="1.09"/>
<rect x="174.60" y="284.05" width="1.8" height="0.9" fill="#666"/>
<rect x="198.20" y="283.65" width="1.8" height="0.9" fill="#666"/>
<line x1="175.50" y1="285.50" x2="199.10" y2="283.50" stroke="#b4b4b4" stroke-width="0.5" stroke-dasharray="0.9 0.8" stroke-dashoffset="0.63"/>
<rect x="174.60" y="285.05" width="1.8" height="0.9" fill="#666"/>
<rect x="198.20" y="283.05" width="1.8" height="0.9" fill="#666"/>
<line x1="175.50" y1="286.80" x2="199.10" y2="276.20" stroke="#b4b4b4" stroke-width="0.5" stroke-dasharray="0.9 0.8" stroke-dashoffset="0.93"/>
<rect x="174.60" y="286.35" width="1.8" height="0.9" fill="#666"/>
<rect x="198.20" y="275.75" width="1.8" height="0.9" fill="#666"/>
<line x1="175.50" y1="289.10" x2="199.10" y2="288.70" stroke="#b4b4b4" stroke-width="0.5" stroke-dasharray="0.9 0.8" stroke-dashoffset="0.11"/>
<rect x="174.60" y="288.65" width="1.8" height="0.9" fill="#666"/>
<rect x="198.20" y="288.25" width="1.8" height="0.9" fill="#666"/>
<line x1="175.50" y1="265.50" x2="199.10" y2="265.50" stroke="#3a3a3a" stroke-width="1.0" />
<text x="187.30" y="264.20" font-size="7.8" text-anchor="middle" fill="#111" font-weight="normal" >ns</text>
<line x1="244.00" y1="227.00" x2="244.00" y2="311.30" stroke="#4a4a4a" stroke-width="1" />
<line x1="243.60" y1="310.90" x2="341.80" y2="310.90" stroke="#4a4a4a" stroke-width="1" />
<line x1="242.00" y1="298.10" x2="243.60" y2="298.10" stroke="#4a4a4a" stroke-width="0.9" />
<line x1="242.00" y1="269.80" x2="243.60" y2="269.80" stroke="#4a4a4a" stroke-width="0.9" />
<line x1="242.00" y1="241.50" x2="243.60" y2="241.50" stroke="#4a4a4a" stroke-width="0.9" />
<line x1="280.80" y1="310.90" x2="280.80" y2="312.50" stroke="#4a4a4a" stroke-width="0.7" />
<text x="280.80" y="320.40" font-size="7.8" text-anchor="middle" fill="#111" font-weight="normal" >IL</text>
<line x1="304.40" y1="310.90" x2="304.40" y2="312.50" stroke="#4a4a4a" stroke-width="0.7" />
<text x="304.40" y="320.40" font-size="7.8" text-anchor="middle" fill="#111" font-weight="normal" >CL</text>
<text x="292.90" y="329.70" font-size="7.8" text-anchor="middle" fill="#111" font-weight="normal" >PRF 30 DC 10%</text>
<path d="M267.30 274.10 L267.30 274.10 L266.85 274.40 L266.24 274.81 L265.51 275.29 L264.69 275.83 L263.81 276.37 L262.90 276.90 L261.92 277.42 L260.83 277.97 L259.68 278.52 L258.51 279.09 L257.37 279.65 L256.30 280.20 L255.27 280.73 L254.26 281.23 L253.27 281.73 L252.32 282.25 L251.42 282.80 L250.60 283.40 L249.77 284.08 L248.91 284.83 L248.11 285.61 L247.44 286.39 L247.01 287.13 L246.90 287.80 L247.15 288.38 L247.69 288.91 L248.46 289.39 L249.40 289.86 L250.43 290.32 L251.50 290.80 L252.67 291.30 L254.00 291.80 L255.43 292.29 L256.89 292.78 L258.30 293.25 L259.60 293.70 L260.84 294.14 L262.08 294.58 L263.28 295.00 L264.39 295.39 L265.34 295.73 L266.10 296.00 L266.62 296.19 L266.94 296.32 L267.11 296.39 L267.19 296.44 L267.23 296.47 L267.30 296.50 L267.30 296.50 Z" fill="#a4a4a4" stroke="#3c3c3c" stroke-width="0.6" stroke-linejoin="round"/>
<path d="M318.00 280.20 L318.00 280.20 L318.15 280.28 L318.29 280.38 L318.49 280.50 L318.81 280.64 L319.29 280.81 L320.00 281.00 L320.97 281.21 L322.17 281.44 L323.54 281.69 L325.02 281.97 L326.56 282.27 L328.10 282.60 L329.91 282.98 L332.10 283.40 L334.34 283.85 L336.33 284.30 L337.76 284.73 L338.30 285.10 L337.75 285.41 L336.30 285.67 L334.29 285.90 L332.04 286.13 L329.87 286.39 L328.10 286.70 L326.66 287.07 L325.29 287.47 L323.99 287.90 L322.79 288.34 L321.72 288.78 L320.80 289.20 L320.04 289.63 L319.43 290.10 L318.94 290.56 L318.56 290.98 L318.25 291.34 L318.00 291.60 L318.00 291.60 Z" fill="#d9d9d9" stroke="#3c3c3c" stroke-width="0.6" stroke-linejoin="round"/>
<line x1="267.30" y1="279.00" x2="267.30" y2="292.00" stroke="#333" stroke-width="0.6" />
<line x1="265.30" y1="279.00" x2="269.30" y2="279.00" stroke="#333" stroke-width="0.6" />
<line x1="265.30" y1="292.00" x2="269.30" y2="292.00" stroke="#333" stroke-width="0.6" />
<rect x="262.90" y="282.30" width="8.80" height="6.50" fill="#a9a9a9" stroke="#333" stroke-width="0.8"/>
<line x1="262.90" y1="285.50" x2="271.70" y2="285.50" stroke="#333" stroke-width="0.7" />
<line x1="318.00" y1="282.00" x2="318.00" y2="288.50" stroke="#333" stroke-width="0.6" />
<line x1="316.00" y1="282.00" x2="320.00" y2="282.00" stroke="#333" stroke-width="0.6" />
<line x1="316.00" y1="288.50" x2="320.00" y2="288.50" stroke="#333" stroke-width="0.6" />
<rect x="313.60" y="283.90" width="8.80" height="2.80" fill="#e4e4e4" stroke="#333" stroke-width="0.8"/>
<line x1="313.60" y1="285.30" x2="322.40" y2="285.30" stroke="#333" stroke-width="0.7" />
<line x1="280.80" y1="279.30" x2="304.40" y2="282.40" stroke="#b4b4b4" stroke-width="0.5" stroke-dasharray="0.9 0.8" stroke-dashoffset="0.10"/>
<rect x="279.90" y="278.85" width="1.8" height="0.9" fill="#666"/>
<rect x="303.50" y="281.95" width="1.8" height="0.9" fill="#666"/>
<line x1="280.80" y1="281.50" x2="304.40" y2="283.00" stroke="#b4b4b4" stroke-width="0.5" stroke-dasharray="0.9 0.8" stroke-dashoffset="0.35"/>
<rect x="279.90" y="281.05" width="1.8" height="0.9" fill="#666"/>
<rect x="303.50" y="282.55" width="1.8" height="0.9" fill="#666"/>
<line x1="280.80" y1="283.00" x2="304.40" y2="284.20" stroke="#b4b4b4" stroke-width="0.5" stroke-dasharray="0.9 0.8" stroke-dashoffset="1.16"/>
<rect x="279.90" y="282.55" width="1.8" height="0.9" fill="#666"/>
<rect x="303.50" y="283.75" width="1.8" height="0.9" fill="#666"/>
<line x1="280.80" y1="286.60" x2="304.40" y2="285.50" stroke="#b4b4b4" stroke-width="0.5" stroke-dasharray="0.9 0.8" stroke-dashoffset="0.73"/>
<rect x="279.90" y="286.15" width="1.8" height="0.9" fill="#666"/>
<rect x="303.50" y="285.05" width="1.8" height="0.9" fill="#666"/>
<line x1="280.80" y1="287.50" x2="304.40" y2="286.30" stroke="#b4b4b4" stroke-width="0.5" stroke-dasharray="0.9 0.8" stroke-dashoffset="0.53"/>
<rect x="279.90" y="287.05" width="1.8" height="0.9" fill="#666"/>
<rect x="303.50" y="285.85" width="1.8" height="0.9" fill="#666"/>
<line x1="280.80" y1="288.60" x2="304.40" y2="287.20" stroke="#b4b4b4" stroke-width="0.5" stroke-dasharray="0.9 0.8" stroke-dashoffset="1.00"/>
<rect x="279.90" y="288.15" width="1.8" height="0.9" fill="#666"/>
<rect x="303.50" y="286.75" width="1.8" height="0.9" fill="#666"/>
<line x1="280.80" y1="291.30" x2="304.40" y2="288.00" stroke="#b4b4b4" stroke-width="0.5" stroke-dasharray="0.9 0.8" stroke-dashoffset="0.77"/>
<rect x="279.90" y="290.85" width="1.8" height="0.9" fill="#666"/>
<rect x="303.50" y="287.55" width="1.8" height="0.9" fill="#666"/>
<line x1="280.80" y1="274.50" x2="304.40" y2="274.50" stroke="#3a3a3a" stroke-width="1.0" />
<text x="292.60" y="272.80" font-size="7.8" text-anchor="middle" fill="#111" font-weight="normal" >ns</text>
<text x="21.3" y="268.6" font-size="7.8" text-anchor="middle" fill="#111" transform="rotate(-90 21.3 268.6)">Mean ROI Activity (<tspan font-style="italic">z</tspan><tspan font-size="5.2" dy="1.6" font-style="italic">SSPM</tspan><tspan dy="-1.6">)</tspan></text>
<line x1="369.50" y1="130.20" x2="369.50" y2="165.40" stroke="#666" stroke-width="1" />
<line x1="369.20" y1="165.00" x2="530.30" y2="165.00" stroke="#b8b8b8" stroke-width="1" />
<line x1="367.60" y1="152.80" x2="369.20" y2="152.80" stroke="#4a4a4a" stroke-width="0.7" />
<text x="366.00" y="155.50" font-size="7.8" text-anchor="end" fill="#111" font-weight="normal" >1</text>
<line x1="367.60" y1="130.20" x2="369.20" y2="130.20" stroke="#4a4a4a" stroke-width="0.7" />
<text x="366.00" y="132.90" font-size="7.8" text-anchor="end" fill="#111" font-weight="normal" >2</text>
<text x="369.70" y="127.30" font-size="7.8" text-anchor="start" fill="#111" font-weight="normal" >3000 Hz PRF</text>
<text x="357.80" y="147.60" font-size="7.8" text-anchor="middle" fill="#111" font-weight="normal" transform="rotate(-90 357.8 147.6)" >ROI Activity</text>
<line x1="397.00" y1="165.00" x2="397.00" y2="166.50" stroke="#888" stroke-width="0.6" />
<text x="397.00" y="174.50" font-size="7.8" text-anchor="middle" fill="#111" font-weight="normal" >0.6</text>
<line x1="397.00" y1="153.50" x2="397.00" y2="163.40" stroke="#333" stroke-width="0.6" />
<line x1="385.91" y1="153.50" x2="408.09" y2="153.50" stroke="#333" stroke-width="0.7" />
<line x1="385.91" y1="163.40" x2="408.09" y2="163.40" stroke="#333" stroke-width="0.7" />
<rect x="377.20" y="153.50" width="39.60" height="5.20" fill="#d8d8d8" stroke="#333" stroke-width="0.6"/>
<line x1="377.20" y1="156.20" x2="416.80" y2="156.20" stroke="#333" stroke-width="0.7" />
<circle cx="397.00" cy="145.6" r="0.6" fill="#333"/>
<circle cx="397.47" cy="154.66" r="0.55" fill="#444"/>
<circle cx="396.59" cy="157.53" r="0.55" fill="#444"/>
<circle cx="397.04" cy="156.64" r="0.55" fill="#444"/>
<circle cx="397.37" cy="158.80" r="0.55" fill="#444"/>
<circle cx="397.77" cy="154.57" r="0.55" fill="#444"/>
<circle cx="396.87" cy="153.35" r="0.55" fill="#444"/>
<line x1="449.80" y1="165.00" x2="449.80" y2="166.50" stroke="#888" stroke-width="0.6" />
<text x="449.80" y="174.50" font-size="7.8" text-anchor="middle" fill="#111" font-weight="normal" >10</text>
<line x1="449.80" y1="144.40" x2="449.80" y2="160.30" stroke="#333" stroke-width="0.6" />
<line x1="438.71" y1="144.40" x2="460.89" y2="144.40" stroke="#333" stroke-width="0.7" />
<line x1="438.71" y1="160.30" x2="460.89" y2="160.30" stroke="#333" stroke-width="0.7" />
<rect x="430.00" y="149.60" width="39.60" height="8.10" fill="#d8d8d8" stroke="#333" stroke-width="0.6"/>
<line x1="430.00" y1="155.80" x2="469.60" y2="155.80" stroke="#333" stroke-width="0.7" />
<circle cx="449.80" cy="136.8" r="0.6" fill="#333"/>
<circle cx="449.24" cy="156.25" r="0.55" fill="#444"/>
<circle cx="449.06" cy="153.54" r="0.55" fill="#444"/>
<circle cx="450.22" cy="155.35" r="0.55" fill="#444"/>
<circle cx="450.40" cy="154.39" r="0.55" fill="#444"/>
<circle cx="450.11" cy="151.77" r="0.55" fill="#444"/>
<circle cx="449.93" cy="154.60" r="0.55" fill="#444"/>
<line x1="502.80" y1="165.00" x2="502.80" y2="166.50" stroke="#888" stroke-width="0.6" />
<text x="502.80" y="174.50" font-size="7.8" text-anchor="middle" fill="#111" font-weight="normal" >30</text>
<line x1="502.80" y1="149.10" x2="502.80" y2="160.30" stroke="#333" stroke-width="0.6" />
<line x1="491.71" y1="149.10" x2="513.89" y2="149.10" stroke="#333" stroke-width="0.7" />
<line x1="491.71" y1="160.30" x2="513.89" y2="160.30" stroke="#333" stroke-width="0.7" />
<rect x="483.00" y="153.40" width="39.60" height="4.10" fill="#d8d8d8" stroke="#333" stroke-width="0.6"/>
<line x1="483.00" y1="155.50" x2="522.60" y2="155.50" stroke="#333" stroke-width="0.7" />
<circle cx="502.80" cy="144" r="0.6" fill="#333"/>
<circle cx="503.34" cy="155.18" r="0.55" fill="#444"/>
<circle cx="502.76" cy="158.16" r="0.55" fill="#444"/>
<circle cx="502.10" cy="156.45" r="0.55" fill="#444"/>
<circle cx="503.04" cy="156.68" r="0.55" fill="#444"/>
<circle cx="503.32" cy="158.46" r="0.55" fill="#444"/>
<circle cx="502.62" cy="154.14" r="0.55" fill="#444"/>
<line x1="396.50" y1="135.50" x2="502.70" y2="135.50" stroke="#3a3a3a" stroke-width="1.0" />
<text x="449.60" y="133.40" font-size="7.8" text-anchor="middle" fill="#111" font-weight="normal" >ns</text>
<text x="449.80" y="184.30" font-size="7.8" text-anchor="middle" fill="#111" font-weight="normal" >Duty Cycle (%)</text>
<line x1="369.50" y1="200.00" x2="369.50" y2="235.40" stroke="#666" stroke-width="1" />
<line x1="369.20" y1="235.00" x2="530.30" y2="235.00" stroke="#b8b8b8" stroke-width="1" />
<line x1="367.60" y1="224.40" x2="369.20" y2="224.40" stroke="#4a4a4a" stroke-width="0.7" />
<text x="366.00" y="227.10" font-size="7.8" text-anchor="end" fill="#111" font-weight="normal" >1</text>
<line x1="367.60" y1="207.10" x2="369.20" y2="207.10" stroke="#4a4a4a" stroke-width="0.7" />
<text x="366.00" y="209.80" font-size="7.8" text-anchor="end" fill="#111" font-weight="normal" >2</text>
<text x="369.70" y="197.10" font-size="7.8" text-anchor="start" fill="#111" font-weight="normal" >30 Hz PRF</text>
<text x="357.80" y="217.50" font-size="7.8" text-anchor="middle" fill="#111" font-weight="normal" transform="rotate(-90 357.8 217.5)" >ROI Activity</text>
<line x1="397.00" y1="235.00" x2="397.00" y2="236.50" stroke="#888" stroke-width="0.6" />
<text x="397.00" y="244.50" font-size="7.8" text-anchor="middle" fill="#111" font-weight="normal" >0.6</text>
<line x1="397.00" y1="224.00" x2="397.00" y2="231.00" stroke="#333" stroke-width="0.6" />
<line x1="385.91" y1="224.00" x2="408.09" y2="224.00" stroke="#333" stroke-width="0.7" />
<line x1="385.91" y1="231.00" x2="408.09" y2="231.00" stroke="#333" stroke-width="0.7" />
<rect x="377.20" y="226.10" width="39.60" height="3.60" fill="#c8c8c8" stroke="#333" stroke-width="0.6"/>
<line x1="377.20" y1="227.80" x2="416.80" y2="227.80" stroke="#333" stroke-width="0.7" />
<circle cx="396.24" cy="228.84" r="0.55" fill="#444"/>
<circle cx="396.47" cy="227.69" r="0.55" fill="#444"/>
<circle cx="396.29" cy="225.76" r="0.55" fill="#444"/>
<circle cx="396.41" cy="229.40" r="0.55" fill="#444"/>
<circle cx="396.83" cy="226.49" r="0.55" fill="#444"/>
<circle cx="396.33" cy="229.98" r="0.55" fill="#444"/>
<line x1="449.80" y1="235.00" x2="449.80" y2="236.50" stroke="#888" stroke-width="0.6" />
<text x="449.80" y="244.50" font-size="7.8" text-anchor="middle" fill="#111" font-weight="normal" >10</text>
<line x1="449.80" y1="218.50" x2="449.80" y2="233.40" stroke="#333" stroke-width="0.6" />
<line x1="438.71" y1="218.50" x2="460.89" y2="218.50" stroke="#333" stroke-width="0.7" />
<line x1="438.71" y1="233.40" x2="460.89" y2="233.40" stroke="#333" stroke-width="0.7" />
<rect x="430.00" y="222.50" width="39.60" height="7.80" fill="#d8d8d8" stroke="#333" stroke-width="0.6"/>
<line x1="430.00" y1="228.00" x2="469.60" y2="228.00" stroke="#333" stroke-width="0.7" />
<circle cx="449.88" cy="225.90" r="0.55" fill="#444"/>
<circle cx="450.31" cy="230.16" r="0.55" fill="#444"/>
<circle cx="449.45" cy="229.97" r="0.55" fill="#444"/>
<circle cx="449.57" cy="225.57" r="0.55" fill="#444"/>
<circle cx="450.53" cy="230.17" r="0.55" fill="#444"/>
<circle cx="449.28" cy="222.98" r="0.55" fill="#444"/>
<line x1="502.80" y1="235.00" x2="502.80" y2="236.50" stroke="#888" stroke-width="0.6" />
<text x="502.80" y="244.50" font-size="7.8" text-anchor="middle" fill="#111" font-weight="normal" >30</text>
<line x1="502.80" y1="207.10" x2="502.80" y2="233.20" stroke="#333" stroke-width="0.6" />
<line x1="491.71" y1="207.10" x2="513.89" y2="207.10" stroke="#333" stroke-width="0.7" />
<line x1="491.71" y1="233.20" x2="513.89" y2="233.20" stroke="#333" stroke-width="0.7" />
<rect x="483.00" y="219.70" width="39.60" height="11.30" fill="#d8d8d8" stroke="#333" stroke-width="0.6"/>
<line x1="483.00" y1="226.30" x2="522.60" y2="226.30" stroke="#333" stroke-width="0.7" />
<circle cx="502.37" cy="221.79" r="0.55" fill="#444"/>
<circle cx="502.94" cy="225.15" r="0.55" fill="#444"/>
<circle cx="502.01" cy="222.19" r="0.55" fill="#444"/>
<circle cx="502.59" cy="224.27" r="0.55" fill="#444"/>
<circle cx="503.52" cy="226.23" r="0.55" fill="#444"/>
<circle cx="502.82" cy="227.88" r="0.55" fill="#444"/>
<line x1="396.50" y1="205.50" x2="502.70" y2="205.50" stroke="#3a3a3a" stroke-width="1.0" />
<text x="449.60" y="204.00" font-size="7.8" text-anchor="middle" fill="#111" font-weight="normal" >ns</text>
<text x="449.80" y="254.30" font-size="7.8" text-anchor="middle" fill="#111" font-weight="normal" >Duty Cycle (%)</text>
<line x1="369.50" y1="276.40" x2="369.50" y2="312.10" stroke="#666" stroke-width="1" />
<line x1="369.20" y1="311.70" x2="530.30" y2="311.70" stroke="#b8b8b8" stroke-width="1" />
<line x1="367.60" y1="296.10" x2="369.20" y2="296.10" stroke="#4a4a4a" stroke-width="0.7" />
<text x="366.00" y="298.80" font-size="7.8" text-anchor="end" fill="#111" font-weight="normal" >2</text>
<line x1="367.60" y1="279.40" x2="369.20" y2="279.40" stroke="#4a4a4a" stroke-width="0.7" />
<text x="366.00" y="282.10" font-size="7.8" text-anchor="end" fill="#111" font-weight="normal" >4</text>
<text x="369.70" y="273.50" font-size="7.8" text-anchor="start" fill="#111" font-weight="normal" >30% Duty Cycle</text>
<text x="357.80" y="294.05" font-size="7.8" text-anchor="middle" fill="#111" font-weight="normal" transform="rotate(-90 357.8 294.04999999999995)" >ROI Activity</text>
<line x1="391.50" y1="311.70" x2="391.50" y2="313.20" stroke="#888" stroke-width="0.6" />
<text x="391.50" y="321.20" font-size="7.8" text-anchor="middle" fill="#111" font-weight="normal" >30</text>
<line x1="391.50" y1="296.10" x2="391.50" y2="310.50" stroke="#333" stroke-width="0.6" />
<line x1="383.18" y1="296.10" x2="399.82" y2="296.10" stroke="#333" stroke-width="0.7" />
<line x1="383.18" y1="310.50" x2="399.82" y2="310.50" stroke="#333" stroke-width="0.7" />
<rect x="376.65" y="302.90" width="29.70" height="6.20" fill="#d0d0d0" stroke="#333" stroke-width="0.6"/>
<line x1="376.65" y1="306.30" x2="406.35" y2="306.30" stroke="#333" stroke-width="0.7" />
<circle cx="391.78" cy="306.96" r="0.55" fill="#444"/>
<circle cx="392.14" cy="302.34" r="0.55" fill="#444"/>
<circle cx="392.10" cy="308.30" r="0.55" fill="#444"/>
<circle cx="391.33" cy="308.44" r="0.55" fill="#444"/>
<circle cx="390.87" cy="305.17" r="0.55" fill="#444"/>
<circle cx="390.80" cy="307.10" r="0.55" fill="#444"/>
<line x1="430.40" y1="311.70" x2="430.40" y2="313.20" stroke="#888" stroke-width="0.6" />
<text x="430.40" y="321.20" font-size="7.8" text-anchor="middle" fill="#111" font-weight="normal" >40</text>
<line x1="430.40" y1="299.30" x2="430.40" y2="309.50" stroke="#333" stroke-width="0.6" />
<line x1="422.08" y1="299.30" x2="438.72" y2="299.30" stroke="#333" stroke-width="0.7" />
<line x1="422.08" y1="309.50" x2="438.72" y2="309.50" stroke="#333" stroke-width="0.7" />
<rect x="415.55" y="301.80" width="29.70" height="5.00" fill="#c8c8c8" stroke="#333" stroke-width="0.6"/>
<line x1="415.55" y1="304.50" x2="445.25" y2="304.50" stroke="#333" stroke-width="0.7" />
<circle cx="429.93" cy="301.27" r="0.55" fill="#444"/>
<circle cx="430.14" cy="301.94" r="0.55" fill="#444"/>
<circle cx="429.60" cy="301.17" r="0.55" fill="#444"/>
<circle cx="429.76" cy="301.86" r="0.55" fill="#444"/>
<circle cx="429.64" cy="303.35" r="0.55" fill="#444"/>
<circle cx="430.58" cy="306.92" r="0.55" fill="#444"/>
<line x1="469.60" y1="311.70" x2="469.60" y2="313.20" stroke="#888" stroke-width="0.6" />
<text x="469.60" y="321.20" font-size="7.8" text-anchor="middle" fill="#111" font-weight="normal" >1500</text>
<line x1="469.60" y1="302.00" x2="469.60" y2="309.00" stroke="#333" stroke-width="0.6" />
<line x1="461.28" y1="302.00" x2="477.92" y2="302.00" stroke="#333" stroke-width="0.7" />
<line x1="461.28" y1="309.00" x2="477.92" y2="309.00" stroke="#333" stroke-width="0.7" />
<rect x="454.75" y="302.90" width="29.70" height="4.60" fill="#c8c8c8" stroke="#333" stroke-width="0.6"/>
<line x1="454.75" y1="305.50" x2="484.45" y2="305.50" stroke="#333" stroke-width="0.7" />
<circle cx="469.60" cy="282.8" r="0.6" fill="#333"/>
<circle cx="469.20" cy="302.88" r="0.55" fill="#444"/>
<circle cx="469.38" cy="304.19" r="0.55" fill="#444"/>
<circle cx="470.16" cy="302.71" r="0.55" fill="#444"/>
<circle cx="469.55" cy="308.45" r="0.55" fill="#444"/>
<circle cx="468.94" cy="305.09" r="0.55" fill="#444"/>
<circle cx="469.35" cy="302.57" r="0.55" fill="#444"/>
<line x1="508.50" y1="311.70" x2="508.50" y2="313.20" stroke="#888" stroke-width="0.6" />
<text x="508.50" y="321.20" font-size="7.8" text-anchor="middle" fill="#111" font-weight="normal" >3000</text>
<line x1="508.50" y1="304.00" x2="508.50" y2="309.20" stroke="#333" stroke-width="0.6" />
<line x1="500.18" y1="304.00" x2="516.82" y2="304.00" stroke="#333" stroke-width="0.7" />
<line x1="500.18" y1="309.20" x2="516.82" y2="309.20" stroke="#333" stroke-width="0.7" />
<rect x="493.65" y="305.20" width="29.70" height="2.80" fill="#707070" stroke="#333" stroke-width="0.6"/>
<line x1="493.65" y1="306.80" x2="523.35" y2="306.80" stroke="#333" stroke-width="0.7" />
<circle cx="509.03" cy="305.47" r="0.55" fill="#444"/>
<circle cx="507.74" cy="304.97" r="0.55" fill="#444"/>
<circle cx="508.55" cy="308.76" r="0.55" fill="#444"/>
<circle cx="508.57" cy="304.90" r="0.55" fill="#444"/>
<circle cx="508.54" cy="304.33" r="0.55" fill="#444"/>
<circle cx="509.08" cy="308.90" r="0.55" fill="#444"/>
<line x1="391.50" y1="281.50" x2="508.50" y2="281.50" stroke="#3a3a3a" stroke-width="1.0" />
<text x="450.00" y="279.60" font-size="7.8" text-anchor="middle" fill="#111" font-weight="normal" >ns</text>
<text x="450.00" y="330.30" font-size="7.8" text-anchor="middle" fill="#111" font-weight="normal" >PRF (Hz)</text>
<rect x="558.30" y="137.45" width="120.80" height="27.15" fill="#dfdffa"/>
<line x1="558.30" y1="137.45" x2="679.10" y2="137.45" stroke="#0a0aff" stroke-width="1.0" />
<line x1="599.18" y1="130.30" x2="599.18" y2="164.60" stroke="#666" stroke-width="0.7" stroke-dasharray="0.8 0.8"/>
<line x1="558.60" y1="130.30" x2="558.60" y2="165.00" stroke="#7a7a7a" stroke-width="1" />
<line x1="558.30" y1="164.60" x2="679.10" y2="164.60" stroke="#b0b0b0" stroke-width="1" />
<line x1="556.70" y1="137.45" x2="558.30" y2="137.45" stroke="#666" stroke-width="0.9" />
<text x="554.70" y="140.15" font-size="7.8" text-anchor="end" fill="#111" font-weight="normal" >0</text>
<line x1="556.70" y1="164.60" x2="558.30" y2="164.60" stroke="#666" stroke-width="0.9" />
<text x="554.70" y="167.30" font-size="7.8" text-anchor="end" fill="#111" font-weight="normal" >−2</text>
<line x1="587.20" y1="164.60" x2="587.20" y2="166.10" stroke="#888" stroke-width="0.6" />
<text x="587.20" y="174.20" font-size="7.8" text-anchor="middle" fill="#111" font-weight="normal" >0.5</text>
<line x1="615.90" y1="164.60" x2="615.90" y2="166.10" stroke="#888" stroke-width="0.6" />
<text x="615.90" y="174.20" font-size="7.8" text-anchor="middle" fill="#111" font-weight="normal" >1.0</text>
<line x1="644.60" y1="164.60" x2="644.60" y2="166.10" stroke="#888" stroke-width="0.6" />
<text x="644.60" y="174.20" font-size="7.8" text-anchor="middle" fill="#111" font-weight="normal" >1.5</text>
<line x1="673.30" y1="164.60" x2="673.30" y2="166.10" stroke="#888" stroke-width="0.6" />
<text x="673.30" y="174.20" font-size="7.8" text-anchor="middle" fill="#111" font-weight="normal" >2.0</text>
<text x="618.90" y="184.20" font-size="7.8" text-anchor="middle" fill="#111" font-weight="normal" >Scaling Factor</text>
<text x="541.8" y="147.95" font-size="7.8" text-anchor="middle" fill="#111" transform="rotate(-90 541.8 147.95)">log<tspan font-size="5.4" dy="1.8">10</tspan><tspan dy="-1.8"> BF</tspan></text>
<path d="M564.24 138.67 L569.98 140.16 L575.72 141.25 L581.46 142.34 L587.20 143.56 L592.94 144.64 L598.68 145.73 L604.42 146.82 L610.16 147.36 L615.90 148.17 L621.64 148.99 L627.38 149.80 L644.60 151.98 L673.30 154.96" fill="none" stroke="#111" stroke-width="0.9" stroke-dasharray="2.2 1.4"/>
<circle cx="564.24" cy="138.67" r="1.4" fill="#111"/>
<circle cx="569.98" cy="140.16" r="1.4" fill="#111"/>
<circle cx="575.72" cy="141.25" r="1.4" fill="#111"/>
<circle cx="581.46" cy="142.34" r="1.4" fill="#111"/>
<circle cx="587.20" cy="143.56" r="1.4" fill="#111"/>
<circle cx="592.94" cy="144.64" r="1.4" fill="#111"/>
<circle cx="598.68" cy="145.73" r="1.4" fill="#111"/>
<circle cx="604.42" cy="146.82" r="1.4" fill="#111"/>
<circle cx="610.16" cy="147.36" r="1.4" fill="#111"/>
<circle cx="615.90" cy="148.17" r="1.4" fill="#111"/>
<circle cx="621.64" cy="148.99" r="1.4" fill="#111"/>
<circle cx="627.38" cy="149.80" r="1.4" fill="#111"/>
<circle cx="644.60" cy="151.98" r="1.4" fill="#111"/>
<circle cx="673.30" cy="154.96" r="1.4" fill="#111"/>
<rect x="558.30" y="207.35" width="120.80" height="27.45" fill="#dfdffa"/>
<line x1="558.30" y1="207.35" x2="679.10" y2="207.35" stroke="#0a0aff" stroke-width="1.0" />
<line x1="599.18" y1="200.20" x2="599.18" y2="234.80" stroke="#666" stroke-width="0.7" stroke-dasharray="0.8 0.8"/>
<line x1="558.60" y1="200.20" x2="558.60" y2="235.20" stroke="#7a7a7a" stroke-width="1" />
<line x1="558.30" y1="234.80" x2="679.10" y2="234.80" stroke="#b0b0b0" stroke-width="1" />
<line x1="556.70" y1="207.35" x2="558.30" y2="207.35" stroke="#666" stroke-width="0.9" />
<text x="554.70" y="210.05" font-size="7.8" text-anchor="end" fill="#111" font-weight="normal" >0</text>
<line x1="556.70" y1="234.80" x2="558.30" y2="234.80" stroke="#666" stroke-width="0.9" />
<text x="554.70" y="237.50" font-size="7.8" text-anchor="end" fill="#111" font-weight="normal" >−2</text>
<line x1="587.20" y1="234.80" x2="587.20" y2="236.30" stroke="#888" stroke-width="0.6" />
<text x="587.20" y="244.40" font-size="7.8" text-anchor="middle" fill="#111" font-weight="normal" >0.5</text>
<line x1="615.90" y1="234.80" x2="615.90" y2="236.30" stroke="#888" stroke-width="0.6" />
<text x="615.90" y="244.40" font-size="7.8" text-anchor="middle" fill="#111" font-weight="normal" >1.0</text>
<line x1="644.60" y1="234.80" x2="644.60" y2="236.30" stroke="#888" stroke-width="0.6" />
<text x="644.60" y="244.40" font-size="7.8" text-anchor="middle" fill="#111" font-weight="normal" >1.5</text>
<line x1="673.30" y1="234.80" x2="673.30" y2="236.30" stroke="#888" stroke-width="0.6" />
<text x="673.30" y="244.40" font-size="7.8" text-anchor="middle" fill="#111" font-weight="normal" >2.0</text>
<text x="618.90" y="254.40" font-size="7.8" text-anchor="middle" fill="#111" font-weight="normal" >Scaling Factor</text>
<text x="541.8" y="218.00" font-size="7.8" text-anchor="middle" fill="#111" transform="rotate(-90 541.8 218.00)">log<tspan font-size="5.4" dy="1.8">10</tspan><tspan dy="-1.8"> BF</tspan></text>
<path d="M564.24 208.45 L569.98 209.82 L575.72 211.06 L581.46 212.15 L587.20 213.25 L592.94 214.35 L598.68 215.31 L604.42 216.27 L610.16 217.09 L615.90 217.92 L621.64 218.60 L627.38 219.29 L644.60 221.35 L673.30 224.09" fill="none" stroke="#111" stroke-width="0.9" stroke-dasharray="2.2 1.4"/>
<circle cx="564.24" cy="208.45" r="1.4" fill="#111"/>
<circle cx="569.98" cy="209.82" r="1.4" fill="#111"/>
<circle cx="575.72" cy="211.06" r="1.4" fill="#111"/>
<circle cx="581.46" cy="212.15" r="1.4" fill="#111"/>
<circle cx="587.20" cy="213.25" r="1.4" fill="#111"/>
<circle cx="592.94" cy="214.35" r="1.4" fill="#111"/>
<circle cx="598.68" cy="215.31" r="1.4" fill="#111"/>
<circle cx="604.42" cy="216.27" r="1.4" fill="#111"/>
<circle cx="610.16" cy="217.09" r="1.4" fill="#111"/>
<circle cx="615.90" cy="217.92" r="1.4" fill="#111"/>
<circle cx="621.64" cy="218.60" r="1.4" fill="#111"/>
<circle cx="627.38" cy="219.29" r="1.4" fill="#111"/>
<circle cx="644.60" cy="221.35" r="1.4" fill="#111"/>
<circle cx="673.30" cy="224.09" r="1.4" fill="#111"/>
<rect x="558.30" y="283.45" width="120.80" height="27.45" fill="#dfdffa"/>
<line x1="558.30" y1="283.45" x2="679.10" y2="283.45" stroke="#0a0aff" stroke-width="1.0" />
<line x1="599.18" y1="276.30" x2="599.18" y2="310.90" stroke="#666" stroke-width="0.7" stroke-dasharray="0.8 0.8"/>
<line x1="558.60" y1="276.30" x2="558.60" y2="311.30" stroke="#7a7a7a" stroke-width="1" />
<line x1="558.30" y1="310.90" x2="679.10" y2="310.90" stroke="#b0b0b0" stroke-width="1" />
<line x1="556.70" y1="283.45" x2="558.30" y2="283.45" stroke="#666" stroke-width="0.9" />
<text x="554.70" y="286.15" font-size="7.8" text-anchor="end" fill="#111" font-weight="normal" >0</text>
<line x1="556.70" y1="310.90" x2="558.30" y2="310.90" stroke="#666" stroke-width="0.9" />
<text x="554.70" y="313.60" font-size="7.8" text-anchor="end" fill="#111" font-weight="normal" >−2</text>
<line x1="587.20" y1="310.90" x2="587.20" y2="312.40" stroke="#888" stroke-width="0.6" />
<text x="587.20" y="320.50" font-size="7.8" text-anchor="middle" fill="#111" font-weight="normal" >0.5</text>
<line x1="615.90" y1="310.90" x2="615.90" y2="312.40" stroke="#888" stroke-width="0.6" />
<text x="615.90" y="320.50" font-size="7.8" text-anchor="middle" fill="#111" font-weight="normal" >1.0</text>
<line x1="644.60" y1="310.90" x2="644.60" y2="312.40" stroke="#888" stroke-width="0.6" />
<text x="644.60" y="320.50" font-size="7.8" text-anchor="middle" fill="#111" font-weight="normal" >1.5</text>
<line x1="673.30" y1="310.90" x2="673.30" y2="312.40" stroke="#888" stroke-width="0.6" />
<text x="673.30" y="320.50" font-size="7.8" text-anchor="middle" fill="#111" font-weight="normal" >2.0</text>
<text x="618.90" y="329.80" font-size="7.8" text-anchor="middle" fill="#111" font-weight="normal" >Scaling Factor</text>
<text x="541.8" y="294.10" font-size="7.8" text-anchor="middle" fill="#111" transform="rotate(-90 541.8 294.10)">log<tspan font-size="5.4" dy="1.8">10</tspan><tspan dy="-1.8"> BF</tspan></text>
<path d="M564.24 285.78 L569.98 287.43 L575.72 289.08 L581.46 290.86 L587.20 292.37 L592.94 293.88 L598.68 295.25 L604.42 296.35 L610.16 298.00 L615.90 298.96 L621.64 300.33 L627.38 301.43 L644.60 304.59 L673.30 308.70" fill="none" stroke="#111" stroke-width="0.9" stroke-dasharray="2.2 1.4"/>
<circle cx="564.24" cy="285.78" r="1.4" fill="#111"/>
<circle cx="569.98" cy="287.43" r="1.4" fill="#111"/>
<circle cx="575.72" cy="289.08" r="1.4" fill="#111"/>
<circle cx="581.46" cy="290.86" r="1.4" fill="#111"/>
<circle cx="587.20" cy="292.37" r="1.4" fill="#111"/>
<circle cx="592.94" cy="293.88" r="1.4" fill="#111"/>
<circle cx="598.68" cy="295.25" r="1.4" fill="#111"/>
<circle cx="604.42" cy="296.35" r="1.4" fill="#111"/>
<circle cx="610.16" cy="298.00" r="1.4" fill="#111"/>
<circle cx="615.90" cy="298.96" r="1.4" fill="#111"/>
<circle cx="621.64" cy="300.33" r="1.4" fill="#111"/>
<circle cx="627.38" cy="301.43" r="1.4" fill="#111"/>
<circle cx="644.60" cy="304.59" r="1.4" fill="#111"/>
<circle cx="673.30" cy="308.70" r="1.4" fill="#111"/>
</svg>
</body></html>
